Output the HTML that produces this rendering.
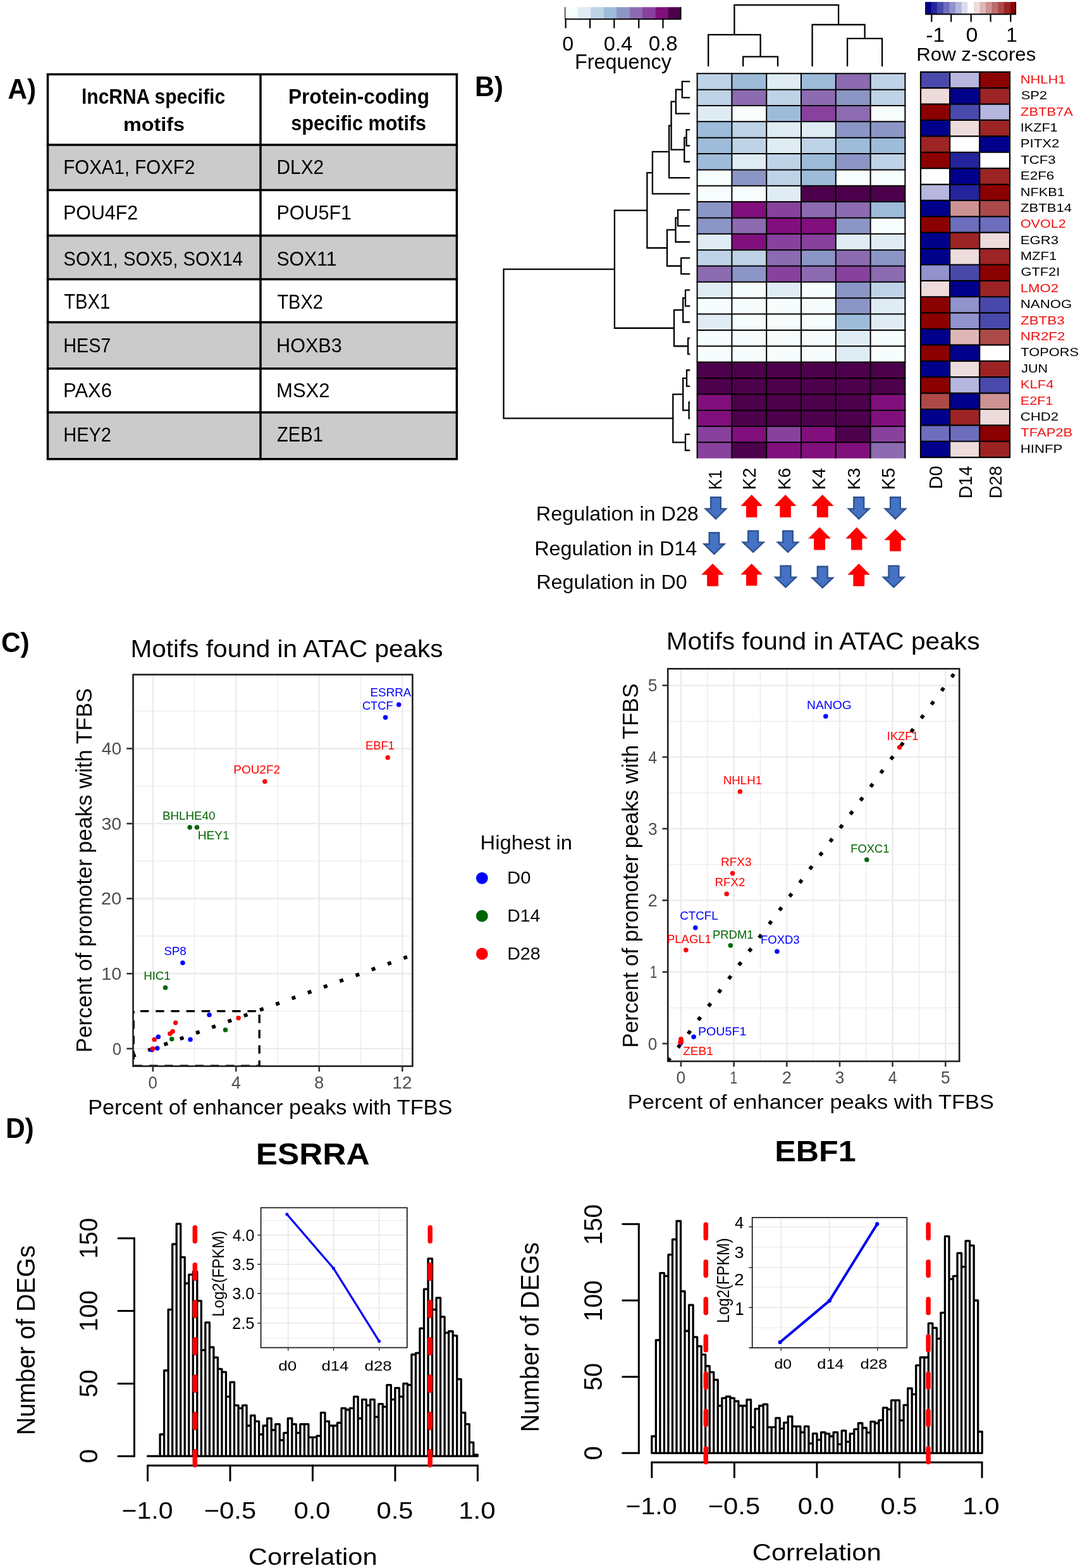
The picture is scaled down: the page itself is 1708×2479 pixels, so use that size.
<!DOCTYPE html>
<html><head><meta charset="utf-8"><title>Figure</title>
<style>html,body{margin:0;padding:0;background:#fff;overflow:hidden}svg{display:block}
text{font-family:"Liberation Sans",Arial,sans-serif;white-space:pre}</style></head>
<body><svg xmlns="http://www.w3.org/2000/svg" width="1708" height="2479" viewBox="0 0 1708 2479">
<rect width="1708" height="2479" fill="#fff"/>
<rect x="75.5" y="229" width="646.9" height="71.5" fill="#cbcbcb" stroke="none" stroke-width="0" />
<rect x="75.5" y="372.5" width="646.9" height="69" fill="#cbcbcb" stroke="none" stroke-width="0" />
<rect x="75.5" y="509.6" width="646.9" height="73.2" fill="#cbcbcb" stroke="none" stroke-width="0" />
<rect x="75.5" y="652" width="646.9" height="73.8" fill="#cbcbcb" stroke="none" stroke-width="0" />
<line x1="73.75" y1="117.5" x2="724.15" y2="117.5" stroke="#000" stroke-width="3.5" />
<line x1="73.75" y1="229" x2="724.15" y2="229" stroke="#000" stroke-width="3.5" />
<line x1="73.75" y1="300.5" x2="724.15" y2="300.5" stroke="#000" stroke-width="3.5" />
<line x1="73.75" y1="372.5" x2="724.15" y2="372.5" stroke="#000" stroke-width="3.5" />
<line x1="73.75" y1="441.5" x2="724.15" y2="441.5" stroke="#000" stroke-width="3.5" />
<line x1="73.75" y1="509.6" x2="724.15" y2="509.6" stroke="#000" stroke-width="3.5" />
<line x1="73.75" y1="582.8" x2="724.15" y2="582.8" stroke="#000" stroke-width="3.5" />
<line x1="73.75" y1="652" x2="724.15" y2="652" stroke="#000" stroke-width="3.5" />
<line x1="73.75" y1="725.8" x2="724.15" y2="725.8" stroke="#000" stroke-width="3.5" />
<line x1="75.5" y1="117.5" x2="75.5" y2="725.8" stroke="#000" stroke-width="3.5" />
<line x1="722.4" y1="117.5" x2="722.4" y2="725.8" stroke="#000" stroke-width="3.5" />
<line x1="412" y1="117.5" x2="412" y2="725.8" stroke="#000" stroke-width="3.5" />
<text transform="translate(12.2,156.4) scale(0.9407,1)" font-size="45.27" font-weight="bold" fill="#000" >A)</text>
<text transform="translate(129.01,164) scale(0.9080,1)" font-size="33.03" font-weight="bold" fill="#000" >lncRNA specific</text>
<text transform="translate(194.98,206.5) scale(1.0670,1)" font-size="30.28" font-weight="bold" fill="#000" >motifs</text>
<text transform="translate(455.9,163.5) scale(0.9574,1)" font-size="33.03" font-weight="bold" fill="#000" >Protein-coding</text>
<text transform="translate(460.33,205.9) scale(0.9287,1)" font-size="32.89" font-weight="bold" fill="#000" >specific motifs</text>
<text transform="translate(100.18,275.4) scale(0.9217,1)" font-size="32" fill="#000" >FOXA1, FOXF2</text>
<text transform="translate(437.55,275.4) scale(0.9279,1)" font-size="32.18" fill="#000" >DLX2</text>
<text transform="translate(100.11,346.9) scale(0.9475,1)" font-size="32" fill="#000" >POU4F2</text>
<text transform="translate(437.5,346.9) scale(0.9517,1)" font-size="32" fill="#000" >POU5F1</text>
<text transform="translate(100.34,419.5) scale(0.9170,1)" font-size="32" fill="#000" >SOX1, SOX5, SOX14</text>
<text transform="translate(437.5,419.5) scale(0.9420,1)" font-size="32" fill="#000" >SOX11</text>
<text transform="translate(101.23,487.6) scale(0.8967,1)" font-size="32.54" fill="#000" >TBX1</text>
<text transform="translate(438.43,487.6) scale(0.9004,1)" font-size="32.18" fill="#000" >TBX2</text>
<text transform="translate(100.24,556.6) scale(0.8990,1)" font-size="32" fill="#000" >HES7</text>
<text transform="translate(437.09,556.6) scale(0.9554,1)" font-size="32" fill="#000" >HOXB3</text>
<text transform="translate(100.06,628) scale(0.9691,1)" font-size="32" fill="#000" >PAX6</text>
<text transform="translate(437.06,628) scale(0.9690,1)" font-size="32" fill="#000" >MSX2</text>
<text transform="translate(100.22,697.7) scale(0.9003,1)" font-size="32.18" fill="#000" >HEY2</text>
<text transform="translate(438.09,697.7) scale(0.8947,1)" font-size="32.54" fill="#000" >ZEB1</text>
<text transform="translate(750.97,151.7) scale(0.9693,1)" font-size="43.97" font-weight="bold" fill="#000" >B)</text>
<rect x="1102.6" y="116.3" width="54.8" height="25.35" fill="#BFD3E6" stroke="none" stroke-width="0" />
<rect x="1157.4" y="116.3" width="54.8" height="25.35" fill="#9EBCDA" stroke="none" stroke-width="0" />
<rect x="1212.2" y="116.3" width="54.8" height="25.35" fill="#E0ECF4" stroke="none" stroke-width="0" />
<rect x="1267" y="116.3" width="54.8" height="25.35" fill="#9EBCDA" stroke="none" stroke-width="0" />
<rect x="1321.8" y="116.3" width="54.8" height="25.35" fill="#8C6BB1" stroke="none" stroke-width="0" />
<rect x="1376.6" y="116.3" width="54.8" height="25.35" fill="#BFD3E6" stroke="none" stroke-width="0" />
<rect x="1102.6" y="141.65" width="54.8" height="25.35" fill="#BFD3E6" stroke="none" stroke-width="0" />
<rect x="1157.4" y="141.65" width="54.8" height="25.35" fill="#8C6BB1" stroke="none" stroke-width="0" />
<rect x="1212.2" y="141.65" width="54.8" height="25.35" fill="#BFD3E6" stroke="none" stroke-width="0" />
<rect x="1267" y="141.65" width="54.8" height="25.35" fill="#8C6BB1" stroke="none" stroke-width="0" />
<rect x="1321.8" y="141.65" width="54.8" height="25.35" fill="#8C96C6" stroke="none" stroke-width="0" />
<rect x="1376.6" y="141.65" width="54.8" height="25.35" fill="#BFD3E6" stroke="none" stroke-width="0" />
<rect x="1102.6" y="167" width="54.8" height="25.35" fill="#E0ECF4" stroke="none" stroke-width="0" />
<rect x="1157.4" y="167" width="54.8" height="25.35" fill="#F7FCFD" stroke="none" stroke-width="0" />
<rect x="1212.2" y="167" width="54.8" height="25.35" fill="#9EBCDA" stroke="none" stroke-width="0" />
<rect x="1267" y="167" width="54.8" height="25.35" fill="#88419D" stroke="none" stroke-width="0" />
<rect x="1321.8" y="167" width="54.8" height="25.35" fill="#8C6BB1" stroke="none" stroke-width="0" />
<rect x="1376.6" y="167" width="54.8" height="25.35" fill="#F7FCFD" stroke="none" stroke-width="0" />
<rect x="1102.6" y="192.35" width="54.8" height="25.35" fill="#9EBCDA" stroke="none" stroke-width="0" />
<rect x="1157.4" y="192.35" width="54.8" height="25.35" fill="#BFD3E6" stroke="none" stroke-width="0" />
<rect x="1212.2" y="192.35" width="54.8" height="25.35" fill="#E0ECF4" stroke="none" stroke-width="0" />
<rect x="1267" y="192.35" width="54.8" height="25.35" fill="#E0ECF4" stroke="none" stroke-width="0" />
<rect x="1321.8" y="192.35" width="54.8" height="25.35" fill="#8C96C6" stroke="none" stroke-width="0" />
<rect x="1376.6" y="192.35" width="54.8" height="25.35" fill="#8C96C6" stroke="none" stroke-width="0" />
<rect x="1102.6" y="217.7" width="54.8" height="25.35" fill="#9EBCDA" stroke="none" stroke-width="0" />
<rect x="1157.4" y="217.7" width="54.8" height="25.35" fill="#BFD3E6" stroke="none" stroke-width="0" />
<rect x="1212.2" y="217.7" width="54.8" height="25.35" fill="#E0ECF4" stroke="none" stroke-width="0" />
<rect x="1267" y="217.7" width="54.8" height="25.35" fill="#BFD3E6" stroke="none" stroke-width="0" />
<rect x="1321.8" y="217.7" width="54.8" height="25.35" fill="#9EBCDA" stroke="none" stroke-width="0" />
<rect x="1376.6" y="217.7" width="54.8" height="25.35" fill="#9EBCDA" stroke="none" stroke-width="0" />
<rect x="1102.6" y="243.05" width="54.8" height="25.35" fill="#9EBCDA" stroke="none" stroke-width="0" />
<rect x="1157.4" y="243.05" width="54.8" height="25.35" fill="#E0ECF4" stroke="none" stroke-width="0" />
<rect x="1212.2" y="243.05" width="54.8" height="25.35" fill="#BFD3E6" stroke="none" stroke-width="0" />
<rect x="1267" y="243.05" width="54.8" height="25.35" fill="#9EBCDA" stroke="none" stroke-width="0" />
<rect x="1321.8" y="243.05" width="54.8" height="25.35" fill="#8C96C6" stroke="none" stroke-width="0" />
<rect x="1376.6" y="243.05" width="54.8" height="25.35" fill="#BFD3E6" stroke="none" stroke-width="0" />
<rect x="1102.6" y="268.4" width="54.8" height="25.35" fill="#F7FCFD" stroke="none" stroke-width="0" />
<rect x="1157.4" y="268.4" width="54.8" height="25.35" fill="#8C96C6" stroke="none" stroke-width="0" />
<rect x="1212.2" y="268.4" width="54.8" height="25.35" fill="#BFD3E6" stroke="none" stroke-width="0" />
<rect x="1267" y="268.4" width="54.8" height="25.35" fill="#9EBCDA" stroke="none" stroke-width="0" />
<rect x="1321.8" y="268.4" width="54.8" height="25.35" fill="#F7FCFD" stroke="none" stroke-width="0" />
<rect x="1376.6" y="268.4" width="54.8" height="25.35" fill="#F7FCFD" stroke="none" stroke-width="0" />
<rect x="1102.6" y="293.75" width="54.8" height="25.35" fill="#F7FCFD" stroke="none" stroke-width="0" />
<rect x="1157.4" y="293.75" width="54.8" height="25.35" fill="#F7FCFD" stroke="none" stroke-width="0" />
<rect x="1212.2" y="293.75" width="54.8" height="25.35" fill="#E0ECF4" stroke="none" stroke-width="0" />
<rect x="1267" y="293.75" width="54.8" height="25.35" fill="#4D004B" stroke="none" stroke-width="0" />
<rect x="1321.8" y="293.75" width="54.8" height="25.35" fill="#4D004B" stroke="none" stroke-width="0" />
<rect x="1376.6" y="293.75" width="54.8" height="25.35" fill="#4D004B" stroke="none" stroke-width="0" />
<rect x="1102.6" y="319.1" width="54.8" height="25.35" fill="#8C96C6" stroke="none" stroke-width="0" />
<rect x="1157.4" y="319.1" width="54.8" height="25.35" fill="#810F7C" stroke="none" stroke-width="0" />
<rect x="1212.2" y="319.1" width="54.8" height="25.35" fill="#88419D" stroke="none" stroke-width="0" />
<rect x="1267" y="319.1" width="54.8" height="25.35" fill="#8C6BB1" stroke="none" stroke-width="0" />
<rect x="1321.8" y="319.1" width="54.8" height="25.35" fill="#8C6BB1" stroke="none" stroke-width="0" />
<rect x="1376.6" y="319.1" width="54.8" height="25.35" fill="#9EBCDA" stroke="none" stroke-width="0" />
<rect x="1102.6" y="344.45" width="54.8" height="25.35" fill="#8C96C6" stroke="none" stroke-width="0" />
<rect x="1157.4" y="344.45" width="54.8" height="25.35" fill="#8C6BB1" stroke="none" stroke-width="0" />
<rect x="1212.2" y="344.45" width="54.8" height="25.35" fill="#810F7C" stroke="none" stroke-width="0" />
<rect x="1267" y="344.45" width="54.8" height="25.35" fill="#810F7C" stroke="none" stroke-width="0" />
<rect x="1321.8" y="344.45" width="54.8" height="25.35" fill="#8C96C6" stroke="none" stroke-width="0" />
<rect x="1376.6" y="344.45" width="54.8" height="25.35" fill="#F7FCFD" stroke="none" stroke-width="0" />
<rect x="1102.6" y="369.8" width="54.8" height="25.35" fill="#E0ECF4" stroke="none" stroke-width="0" />
<rect x="1157.4" y="369.8" width="54.8" height="25.35" fill="#810F7C" stroke="none" stroke-width="0" />
<rect x="1212.2" y="369.8" width="54.8" height="25.35" fill="#88419D" stroke="none" stroke-width="0" />
<rect x="1267" y="369.8" width="54.8" height="25.35" fill="#88419D" stroke="none" stroke-width="0" />
<rect x="1321.8" y="369.8" width="54.8" height="25.35" fill="#E0ECF4" stroke="none" stroke-width="0" />
<rect x="1376.6" y="369.8" width="54.8" height="25.35" fill="#E0ECF4" stroke="none" stroke-width="0" />
<rect x="1102.6" y="395.15" width="54.8" height="25.35" fill="#BFD3E6" stroke="none" stroke-width="0" />
<rect x="1157.4" y="395.15" width="54.8" height="25.35" fill="#BFD3E6" stroke="none" stroke-width="0" />
<rect x="1212.2" y="395.15" width="54.8" height="25.35" fill="#8C6BB1" stroke="none" stroke-width="0" />
<rect x="1267" y="395.15" width="54.8" height="25.35" fill="#8C96C6" stroke="none" stroke-width="0" />
<rect x="1321.8" y="395.15" width="54.8" height="25.35" fill="#8C6BB1" stroke="none" stroke-width="0" />
<rect x="1376.6" y="395.15" width="54.8" height="25.35" fill="#8C96C6" stroke="none" stroke-width="0" />
<rect x="1102.6" y="420.5" width="54.8" height="25.35" fill="#8C6BB1" stroke="none" stroke-width="0" />
<rect x="1157.4" y="420.5" width="54.8" height="25.35" fill="#8C96C6" stroke="none" stroke-width="0" />
<rect x="1212.2" y="420.5" width="54.8" height="25.35" fill="#88419D" stroke="none" stroke-width="0" />
<rect x="1267" y="420.5" width="54.8" height="25.35" fill="#8C6BB1" stroke="none" stroke-width="0" />
<rect x="1321.8" y="420.5" width="54.8" height="25.35" fill="#88419D" stroke="none" stroke-width="0" />
<rect x="1376.6" y="420.5" width="54.8" height="25.35" fill="#8C6BB1" stroke="none" stroke-width="0" />
<rect x="1102.6" y="445.85" width="54.8" height="25.35" fill="#E0ECF4" stroke="none" stroke-width="0" />
<rect x="1157.4" y="445.85" width="54.8" height="25.35" fill="#F7FCFD" stroke="none" stroke-width="0" />
<rect x="1212.2" y="445.85" width="54.8" height="25.35" fill="#E0ECF4" stroke="none" stroke-width="0" />
<rect x="1267" y="445.85" width="54.8" height="25.35" fill="#F7FCFD" stroke="none" stroke-width="0" />
<rect x="1321.8" y="445.85" width="54.8" height="25.35" fill="#8C96C6" stroke="none" stroke-width="0" />
<rect x="1376.6" y="445.85" width="54.8" height="25.35" fill="#BFD3E6" stroke="none" stroke-width="0" />
<rect x="1102.6" y="471.2" width="54.8" height="25.35" fill="#F7FCFD" stroke="none" stroke-width="0" />
<rect x="1157.4" y="471.2" width="54.8" height="25.35" fill="#F7FCFD" stroke="none" stroke-width="0" />
<rect x="1212.2" y="471.2" width="54.8" height="25.35" fill="#F7FCFD" stroke="none" stroke-width="0" />
<rect x="1267" y="471.2" width="54.8" height="25.35" fill="#F7FCFD" stroke="none" stroke-width="0" />
<rect x="1321.8" y="471.2" width="54.8" height="25.35" fill="#8C96C6" stroke="none" stroke-width="0" />
<rect x="1376.6" y="471.2" width="54.8" height="25.35" fill="#E0ECF4" stroke="none" stroke-width="0" />
<rect x="1102.6" y="496.55" width="54.8" height="25.35" fill="#E0ECF4" stroke="none" stroke-width="0" />
<rect x="1157.4" y="496.55" width="54.8" height="25.35" fill="#F7FCFD" stroke="none" stroke-width="0" />
<rect x="1212.2" y="496.55" width="54.8" height="25.35" fill="#F7FCFD" stroke="none" stroke-width="0" />
<rect x="1267" y="496.55" width="54.8" height="25.35" fill="#F7FCFD" stroke="none" stroke-width="0" />
<rect x="1321.8" y="496.55" width="54.8" height="25.35" fill="#9EBCDA" stroke="none" stroke-width="0" />
<rect x="1376.6" y="496.55" width="54.8" height="25.35" fill="#E0ECF4" stroke="none" stroke-width="0" />
<rect x="1102.6" y="521.9" width="54.8" height="25.35" fill="#F7FCFD" stroke="none" stroke-width="0" />
<rect x="1157.4" y="521.9" width="54.8" height="25.35" fill="#F7FCFD" stroke="none" stroke-width="0" />
<rect x="1212.2" y="521.9" width="54.8" height="25.35" fill="#F7FCFD" stroke="none" stroke-width="0" />
<rect x="1267" y="521.9" width="54.8" height="25.35" fill="#F7FCFD" stroke="none" stroke-width="0" />
<rect x="1321.8" y="521.9" width="54.8" height="25.35" fill="#E0ECF4" stroke="none" stroke-width="0" />
<rect x="1376.6" y="521.9" width="54.8" height="25.35" fill="#F7FCFD" stroke="none" stroke-width="0" />
<rect x="1102.6" y="547.25" width="54.8" height="25.35" fill="#F7FCFD" stroke="none" stroke-width="0" />
<rect x="1157.4" y="547.25" width="54.8" height="25.35" fill="#F7FCFD" stroke="none" stroke-width="0" />
<rect x="1212.2" y="547.25" width="54.8" height="25.35" fill="#F7FCFD" stroke="none" stroke-width="0" />
<rect x="1267" y="547.25" width="54.8" height="25.35" fill="#F7FCFD" stroke="none" stroke-width="0" />
<rect x="1321.8" y="547.25" width="54.8" height="25.35" fill="#E0ECF4" stroke="none" stroke-width="0" />
<rect x="1376.6" y="547.25" width="54.8" height="25.35" fill="#F7FCFD" stroke="none" stroke-width="0" />
<rect x="1102.6" y="572.6" width="54.8" height="25.35" fill="#4D004B" stroke="none" stroke-width="0" />
<rect x="1157.4" y="572.6" width="54.8" height="25.35" fill="#4D004B" stroke="none" stroke-width="0" />
<rect x="1212.2" y="572.6" width="54.8" height="25.35" fill="#4D004B" stroke="none" stroke-width="0" />
<rect x="1267" y="572.6" width="54.8" height="25.35" fill="#4D004B" stroke="none" stroke-width="0" />
<rect x="1321.8" y="572.6" width="54.8" height="25.35" fill="#4D004B" stroke="none" stroke-width="0" />
<rect x="1376.6" y="572.6" width="54.8" height="25.35" fill="#4D004B" stroke="none" stroke-width="0" />
<rect x="1102.6" y="597.95" width="54.8" height="25.35" fill="#4D004B" stroke="none" stroke-width="0" />
<rect x="1157.4" y="597.95" width="54.8" height="25.35" fill="#4D004B" stroke="none" stroke-width="0" />
<rect x="1212.2" y="597.95" width="54.8" height="25.35" fill="#4D004B" stroke="none" stroke-width="0" />
<rect x="1267" y="597.95" width="54.8" height="25.35" fill="#4D004B" stroke="none" stroke-width="0" />
<rect x="1321.8" y="597.95" width="54.8" height="25.35" fill="#4D004B" stroke="none" stroke-width="0" />
<rect x="1376.6" y="597.95" width="54.8" height="25.35" fill="#4D004B" stroke="none" stroke-width="0" />
<rect x="1102.6" y="623.3" width="54.8" height="25.35" fill="#810F7C" stroke="none" stroke-width="0" />
<rect x="1157.4" y="623.3" width="54.8" height="25.35" fill="#4D004B" stroke="none" stroke-width="0" />
<rect x="1212.2" y="623.3" width="54.8" height="25.35" fill="#4D004B" stroke="none" stroke-width="0" />
<rect x="1267" y="623.3" width="54.8" height="25.35" fill="#4D004B" stroke="none" stroke-width="0" />
<rect x="1321.8" y="623.3" width="54.8" height="25.35" fill="#4D004B" stroke="none" stroke-width="0" />
<rect x="1376.6" y="623.3" width="54.8" height="25.35" fill="#810F7C" stroke="none" stroke-width="0" />
<rect x="1102.6" y="648.65" width="54.8" height="25.35" fill="#810F7C" stroke="none" stroke-width="0" />
<rect x="1157.4" y="648.65" width="54.8" height="25.35" fill="#4D004B" stroke="none" stroke-width="0" />
<rect x="1212.2" y="648.65" width="54.8" height="25.35" fill="#4D004B" stroke="none" stroke-width="0" />
<rect x="1267" y="648.65" width="54.8" height="25.35" fill="#4D004B" stroke="none" stroke-width="0" />
<rect x="1321.8" y="648.65" width="54.8" height="25.35" fill="#4D004B" stroke="none" stroke-width="0" />
<rect x="1376.6" y="648.65" width="54.8" height="25.35" fill="#810F7C" stroke="none" stroke-width="0" />
<rect x="1102.6" y="674" width="54.8" height="25.35" fill="#88419D" stroke="none" stroke-width="0" />
<rect x="1157.4" y="674" width="54.8" height="25.35" fill="#810F7C" stroke="none" stroke-width="0" />
<rect x="1212.2" y="674" width="54.8" height="25.35" fill="#88419D" stroke="none" stroke-width="0" />
<rect x="1267" y="674" width="54.8" height="25.35" fill="#810F7C" stroke="none" stroke-width="0" />
<rect x="1321.8" y="674" width="54.8" height="25.35" fill="#4D004B" stroke="none" stroke-width="0" />
<rect x="1376.6" y="674" width="54.8" height="25.35" fill="#88419D" stroke="none" stroke-width="0" />
<rect x="1102.6" y="699.35" width="54.8" height="25.35" fill="#88419D" stroke="none" stroke-width="0" />
<rect x="1157.4" y="699.35" width="54.8" height="25.35" fill="#4D004B" stroke="none" stroke-width="0" />
<rect x="1212.2" y="699.35" width="54.8" height="25.35" fill="#810F7C" stroke="none" stroke-width="0" />
<rect x="1267" y="699.35" width="54.8" height="25.35" fill="#810F7C" stroke="none" stroke-width="0" />
<rect x="1321.8" y="699.35" width="54.8" height="25.35" fill="#810F7C" stroke="none" stroke-width="0" />
<rect x="1376.6" y="699.35" width="54.8" height="25.35" fill="#8C6BB1" stroke="none" stroke-width="0" />
<line x1="1102.6" y1="115.3" x2="1102.6" y2="724.7" stroke="#000" stroke-width="2" />
<line x1="1157.4" y1="115.3" x2="1157.4" y2="724.7" stroke="#000" stroke-width="2" />
<line x1="1212.2" y1="115.3" x2="1212.2" y2="724.7" stroke="#000" stroke-width="2" />
<line x1="1267" y1="115.3" x2="1267" y2="724.7" stroke="#000" stroke-width="2" />
<line x1="1321.8" y1="115.3" x2="1321.8" y2="724.7" stroke="#000" stroke-width="2" />
<line x1="1376.6" y1="115.3" x2="1376.6" y2="724.7" stroke="#000" stroke-width="2" />
<line x1="1431.4" y1="115.3" x2="1431.4" y2="724.7" stroke="#000" stroke-width="2" />
<line x1="1101.6" y1="116.3" x2="1432.4" y2="116.3" stroke="#000" stroke-width="2" />
<line x1="1101.6" y1="141.65" x2="1432.4" y2="141.65" stroke="#000" stroke-width="2" />
<line x1="1101.6" y1="167" x2="1432.4" y2="167" stroke="#000" stroke-width="2" />
<line x1="1101.6" y1="192.35" x2="1432.4" y2="192.35" stroke="#000" stroke-width="2" />
<line x1="1101.6" y1="217.7" x2="1432.4" y2="217.7" stroke="#000" stroke-width="2" />
<line x1="1101.6" y1="243.05" x2="1432.4" y2="243.05" stroke="#000" stroke-width="2" />
<line x1="1101.6" y1="268.4" x2="1432.4" y2="268.4" stroke="#000" stroke-width="2" />
<line x1="1101.6" y1="293.75" x2="1432.4" y2="293.75" stroke="#000" stroke-width="2" />
<line x1="1101.6" y1="319.1" x2="1432.4" y2="319.1" stroke="#000" stroke-width="2" />
<line x1="1101.6" y1="344.45" x2="1432.4" y2="344.45" stroke="#000" stroke-width="2" />
<line x1="1101.6" y1="369.8" x2="1432.4" y2="369.8" stroke="#000" stroke-width="2" />
<line x1="1101.6" y1="395.15" x2="1432.4" y2="395.15" stroke="#000" stroke-width="2" />
<line x1="1101.6" y1="420.5" x2="1432.4" y2="420.5" stroke="#000" stroke-width="2" />
<line x1="1101.6" y1="445.85" x2="1432.4" y2="445.85" stroke="#000" stroke-width="2" />
<line x1="1101.6" y1="471.2" x2="1432.4" y2="471.2" stroke="#000" stroke-width="2" />
<line x1="1101.6" y1="496.55" x2="1432.4" y2="496.55" stroke="#000" stroke-width="2" />
<line x1="1101.6" y1="521.9" x2="1432.4" y2="521.9" stroke="#000" stroke-width="2" />
<line x1="1101.6" y1="547.25" x2="1432.4" y2="547.25" stroke="#000" stroke-width="2" />
<line x1="1101.6" y1="572.6" x2="1432.4" y2="572.6" stroke="#000" stroke-width="2" />
<line x1="1101.6" y1="597.95" x2="1432.4" y2="597.95" stroke="#000" stroke-width="2" />
<line x1="1101.6" y1="623.3" x2="1432.4" y2="623.3" stroke="#000" stroke-width="2" />
<line x1="1101.6" y1="648.65" x2="1432.4" y2="648.65" stroke="#000" stroke-width="2" />
<line x1="1101.6" y1="674" x2="1432.4" y2="674" stroke="#000" stroke-width="2" />
<line x1="1101.6" y1="699.35" x2="1432.4" y2="699.35" stroke="#000" stroke-width="2" />
<rect x="1456" y="113.8" width="46.1" height="25.39" fill="#4949AC" stroke="none" stroke-width="0" />
<rect x="1502.1" y="113.8" width="47.1" height="25.39" fill="#B6B6DE" stroke="none" stroke-width="0" />
<rect x="1549.2" y="113.8" width="47.8" height="25.39" fill="#8B0000" stroke="none" stroke-width="0" />
<rect x="1456" y="139.19" width="46.1" height="25.39" fill="#EEDBDB" stroke="none" stroke-width="0" />
<rect x="1502.1" y="139.19" width="47.1" height="25.39" fill="#00008B" stroke="none" stroke-width="0" />
<rect x="1549.2" y="139.19" width="47.8" height="25.39" fill="#9C2424" stroke="none" stroke-width="0" />
<rect x="1456" y="164.58" width="46.1" height="25.39" fill="#8B0000" stroke="none" stroke-width="0" />
<rect x="1502.1" y="164.58" width="47.1" height="25.39" fill="#4949AC" stroke="none" stroke-width="0" />
<rect x="1549.2" y="164.58" width="47.8" height="25.39" fill="#B6B6DE" stroke="none" stroke-width="0" />
<rect x="1456" y="189.97" width="46.1" height="25.39" fill="#00008B" stroke="none" stroke-width="0" />
<rect x="1502.1" y="189.97" width="47.1" height="25.39" fill="#EEDBDB" stroke="none" stroke-width="0" />
<rect x="1549.2" y="189.97" width="47.8" height="25.39" fill="#9C2424" stroke="none" stroke-width="0" />
<rect x="1456" y="215.36" width="46.1" height="25.39" fill="#9C2424" stroke="none" stroke-width="0" />
<rect x="1502.1" y="215.36" width="47.1" height="25.39" fill="#FFFFFF" stroke="none" stroke-width="0" />
<rect x="1549.2" y="215.36" width="47.8" height="25.39" fill="#00008B" stroke="none" stroke-width="0" />
<rect x="1456" y="240.75" width="46.1" height="25.39" fill="#8B0000" stroke="none" stroke-width="0" />
<rect x="1502.1" y="240.75" width="47.1" height="25.39" fill="#24249C" stroke="none" stroke-width="0" />
<rect x="1549.2" y="240.75" width="47.8" height="25.39" fill="#FFFFFF" stroke="none" stroke-width="0" />
<rect x="1456" y="266.14" width="46.1" height="25.39" fill="#FFFFFF" stroke="none" stroke-width="0" />
<rect x="1502.1" y="266.14" width="47.1" height="25.39" fill="#00008B" stroke="none" stroke-width="0" />
<rect x="1549.2" y="266.14" width="47.8" height="25.39" fill="#9C2424" stroke="none" stroke-width="0" />
<rect x="1456" y="291.53" width="46.1" height="25.39" fill="#B6B6DE" stroke="none" stroke-width="0" />
<rect x="1502.1" y="291.53" width="47.1" height="25.39" fill="#24249C" stroke="none" stroke-width="0" />
<rect x="1549.2" y="291.53" width="47.8" height="25.39" fill="#8B0000" stroke="none" stroke-width="0" />
<rect x="1456" y="316.92" width="46.1" height="25.39" fill="#00008B" stroke="none" stroke-width="0" />
<rect x="1502.1" y="316.92" width="47.1" height="25.39" fill="#CD9292" stroke="none" stroke-width="0" />
<rect x="1549.2" y="316.92" width="47.8" height="25.39" fill="#AC4949" stroke="none" stroke-width="0" />
<rect x="1456" y="342.31" width="46.1" height="25.39" fill="#8B0000" stroke="none" stroke-width="0" />
<rect x="1502.1" y="342.31" width="47.1" height="25.39" fill="#6D6DBD" stroke="none" stroke-width="0" />
<rect x="1549.2" y="342.31" width="47.8" height="25.39" fill="#6D6DBD" stroke="none" stroke-width="0" />
<rect x="1456" y="367.7" width="46.1" height="25.39" fill="#00008B" stroke="none" stroke-width="0" />
<rect x="1502.1" y="367.7" width="47.1" height="25.39" fill="#9C2424" stroke="none" stroke-width="0" />
<rect x="1549.2" y="367.7" width="47.8" height="25.39" fill="#EEDBDB" stroke="none" stroke-width="0" />
<rect x="1456" y="393.09" width="46.1" height="25.39" fill="#00008B" stroke="none" stroke-width="0" />
<rect x="1502.1" y="393.09" width="47.1" height="25.39" fill="#EEDBDB" stroke="none" stroke-width="0" />
<rect x="1549.2" y="393.09" width="47.8" height="25.39" fill="#9C2424" stroke="none" stroke-width="0" />
<rect x="1456" y="418.48" width="46.1" height="25.39" fill="#9292CD" stroke="none" stroke-width="0" />
<rect x="1502.1" y="418.48" width="47.1" height="25.39" fill="#4949AC" stroke="none" stroke-width="0" />
<rect x="1549.2" y="418.48" width="47.8" height="25.39" fill="#8B0000" stroke="none" stroke-width="0" />
<rect x="1456" y="443.87" width="46.1" height="25.39" fill="#EEDBDB" stroke="none" stroke-width="0" />
<rect x="1502.1" y="443.87" width="47.1" height="25.39" fill="#00008B" stroke="none" stroke-width="0" />
<rect x="1549.2" y="443.87" width="47.8" height="25.39" fill="#9C2424" stroke="none" stroke-width="0" />
<rect x="1456" y="469.26" width="46.1" height="25.39" fill="#8B0000" stroke="none" stroke-width="0" />
<rect x="1502.1" y="469.26" width="47.1" height="25.39" fill="#9292CD" stroke="none" stroke-width="0" />
<rect x="1549.2" y="469.26" width="47.8" height="25.39" fill="#4949AC" stroke="none" stroke-width="0" />
<rect x="1456" y="494.65" width="46.1" height="25.39" fill="#8B0000" stroke="none" stroke-width="0" />
<rect x="1502.1" y="494.65" width="47.1" height="25.39" fill="#9292CD" stroke="none" stroke-width="0" />
<rect x="1549.2" y="494.65" width="47.8" height="25.39" fill="#4949AC" stroke="none" stroke-width="0" />
<rect x="1456" y="520.04" width="46.1" height="25.39" fill="#00008B" stroke="none" stroke-width="0" />
<rect x="1502.1" y="520.04" width="47.1" height="25.39" fill="#DEB6B6" stroke="none" stroke-width="0" />
<rect x="1549.2" y="520.04" width="47.8" height="25.39" fill="#AC4949" stroke="none" stroke-width="0" />
<rect x="1456" y="545.43" width="46.1" height="25.39" fill="#8B0000" stroke="none" stroke-width="0" />
<rect x="1502.1" y="545.43" width="47.1" height="25.39" fill="#00008B" stroke="none" stroke-width="0" />
<rect x="1549.2" y="545.43" width="47.8" height="25.39" fill="#FFFFFF" stroke="none" stroke-width="0" />
<rect x="1456" y="570.82" width="46.1" height="25.39" fill="#00008B" stroke="none" stroke-width="0" />
<rect x="1502.1" y="570.82" width="47.1" height="25.39" fill="#EEDBDB" stroke="none" stroke-width="0" />
<rect x="1549.2" y="570.82" width="47.8" height="25.39" fill="#9C2424" stroke="none" stroke-width="0" />
<rect x="1456" y="596.21" width="46.1" height="25.39" fill="#8B0000" stroke="none" stroke-width="0" />
<rect x="1502.1" y="596.21" width="47.1" height="25.39" fill="#B6B6DE" stroke="none" stroke-width="0" />
<rect x="1549.2" y="596.21" width="47.8" height="25.39" fill="#4949AC" stroke="none" stroke-width="0" />
<rect x="1456" y="621.6" width="46.1" height="25.39" fill="#AC4949" stroke="none" stroke-width="0" />
<rect x="1502.1" y="621.6" width="47.1" height="25.39" fill="#00008B" stroke="none" stroke-width="0" />
<rect x="1549.2" y="621.6" width="47.8" height="25.39" fill="#CD9292" stroke="none" stroke-width="0" />
<rect x="1456" y="646.99" width="46.1" height="25.39" fill="#00008B" stroke="none" stroke-width="0" />
<rect x="1502.1" y="646.99" width="47.1" height="25.39" fill="#9C2424" stroke="none" stroke-width="0" />
<rect x="1549.2" y="646.99" width="47.8" height="25.39" fill="#EEDBDB" stroke="none" stroke-width="0" />
<rect x="1456" y="672.38" width="46.1" height="25.39" fill="#6D6DBD" stroke="none" stroke-width="0" />
<rect x="1502.1" y="672.38" width="47.1" height="25.39" fill="#6D6DBD" stroke="none" stroke-width="0" />
<rect x="1549.2" y="672.38" width="47.8" height="25.39" fill="#8B0000" stroke="none" stroke-width="0" />
<rect x="1456" y="697.77" width="46.1" height="25.39" fill="#00008B" stroke="none" stroke-width="0" />
<rect x="1502.1" y="697.77" width="47.1" height="25.39" fill="#EEDBDB" stroke="none" stroke-width="0" />
<rect x="1549.2" y="697.77" width="47.8" height="25.39" fill="#9C2424" stroke="none" stroke-width="0" />
<line x1="1456" y1="112.8" x2="1456" y2="723.16" stroke="#000" stroke-width="2.2" />
<line x1="1502.1" y1="112.8" x2="1502.1" y2="723.16" stroke="#000" stroke-width="2.2" />
<line x1="1549.2" y1="112.8" x2="1549.2" y2="723.16" stroke="#000" stroke-width="2.2" />
<line x1="1597" y1="112.8" x2="1597" y2="723.16" stroke="#000" stroke-width="2.2" />
<line x1="1455" y1="113.8" x2="1598" y2="113.8" stroke="#000" stroke-width="2.2" />
<line x1="1455" y1="139.19" x2="1598" y2="139.19" stroke="#000" stroke-width="2.2" />
<line x1="1455" y1="164.58" x2="1598" y2="164.58" stroke="#000" stroke-width="2.2" />
<line x1="1455" y1="189.97" x2="1598" y2="189.97" stroke="#000" stroke-width="2.2" />
<line x1="1455" y1="215.36" x2="1598" y2="215.36" stroke="#000" stroke-width="2.2" />
<line x1="1455" y1="240.75" x2="1598" y2="240.75" stroke="#000" stroke-width="2.2" />
<line x1="1455" y1="266.14" x2="1598" y2="266.14" stroke="#000" stroke-width="2.2" />
<line x1="1455" y1="291.53" x2="1598" y2="291.53" stroke="#000" stroke-width="2.2" />
<line x1="1455" y1="316.92" x2="1598" y2="316.92" stroke="#000" stroke-width="2.2" />
<line x1="1455" y1="342.31" x2="1598" y2="342.31" stroke="#000" stroke-width="2.2" />
<line x1="1455" y1="367.7" x2="1598" y2="367.7" stroke="#000" stroke-width="2.2" />
<line x1="1455" y1="393.09" x2="1598" y2="393.09" stroke="#000" stroke-width="2.2" />
<line x1="1455" y1="418.48" x2="1598" y2="418.48" stroke="#000" stroke-width="2.2" />
<line x1="1455" y1="443.87" x2="1598" y2="443.87" stroke="#000" stroke-width="2.2" />
<line x1="1455" y1="469.26" x2="1598" y2="469.26" stroke="#000" stroke-width="2.2" />
<line x1="1455" y1="494.65" x2="1598" y2="494.65" stroke="#000" stroke-width="2.2" />
<line x1="1455" y1="520.04" x2="1598" y2="520.04" stroke="#000" stroke-width="2.2" />
<line x1="1455" y1="545.43" x2="1598" y2="545.43" stroke="#000" stroke-width="2.2" />
<line x1="1455" y1="570.82" x2="1598" y2="570.82" stroke="#000" stroke-width="2.2" />
<line x1="1455" y1="596.21" x2="1598" y2="596.21" stroke="#000" stroke-width="2.2" />
<line x1="1455" y1="621.6" x2="1598" y2="621.6" stroke="#000" stroke-width="2.2" />
<line x1="1455" y1="646.99" x2="1598" y2="646.99" stroke="#000" stroke-width="2.2" />
<line x1="1455" y1="672.38" x2="1598" y2="672.38" stroke="#000" stroke-width="2.2" />
<line x1="1455" y1="697.77" x2="1598" y2="697.77" stroke="#000" stroke-width="2.2" />
<line x1="1455" y1="723.16" x2="1598" y2="723.16" stroke="#000" stroke-width="2.2" />
<text transform="translate(1613.81,131.9) scale(1.1974,1)" font-size="18.22" fill="#F01010" >NHLH1</text>
<text transform="translate(1614.66,157.28) scale(1.2223,1)" font-size="17.92" fill="#000" >SP2</text>
<text transform="translate(1614.12,182.66) scale(1.2018,1)" font-size="18.22" fill="#F01010" >ZBTB7A</text>
<text transform="translate(1613.65,208.04) scale(1.1911,1)" font-size="18.22" fill="#000" >IKZF1</text>
<text transform="translate(1613.78,233.42) scale(1.2300,1)" font-size="18.02" fill="#000" >PITX2</text>
<text transform="translate(1614.37,258.8) scale(1.2327,1)" font-size="17.92" fill="#000" >TCF3</text>
<text transform="translate(1613.76,284.18) scale(1.2502,1)" font-size="17.92" fill="#000" >E2F6</text>
<text transform="translate(1613.82,309.56) scale(1.1905,1)" font-size="18.22" fill="#000" >NFKB1</text>
<text transform="translate(1614.11,334.94) scale(1.2107,1)" font-size="18.22" fill="#000" >ZBTB14</text>
<text transform="translate(1613.79,360.32) scale(1.2057,1)" font-size="17.92" fill="#F01010" >OVOL2</text>
<text transform="translate(1613.79,385.7) scale(1.2338,1)" font-size="17.92" fill="#000" >EGR3</text>
<text transform="translate(1613.8,411.08) scale(1.2057,1)" font-size="18.22" fill="#000" >MZF1</text>
<text transform="translate(1614.58,436.46) scale(1.2149,1)" font-size="17.92" fill="#000" >GTF2I</text>
<text transform="translate(1613.78,461.84) scale(1.2376,1)" font-size="17.92" fill="#F01010" >LMO2</text>
<text transform="translate(1613.78,487.22) scale(1.2400,1)" font-size="17.92" fill="#000" >NANOG</text>
<text transform="translate(1614.1,512.6) scale(1.2464,1)" font-size="17.92" fill="#F01010" >ZBTB3</text>
<text transform="translate(1613.77,537.98) scale(1.2352,1)" font-size="18.02" fill="#F01010" >NR2F2</text>
<text transform="translate(1614.37,563.36) scale(1.2161,1)" font-size="17.92" fill="#000" >TOPORS</text>
<text transform="translate(1615.26,588.74) scale(1.1794,1)" font-size="18.22" fill="#000" >JUN</text>
<text transform="translate(1613.79,614.12) scale(1.2110,1)" font-size="18.22" fill="#F01010" >KLF4</text>
<text transform="translate(1613.84,639.5) scale(1.1935,1)" font-size="18.02" fill="#F01010" >E2F1</text>
<text transform="translate(1613.67,664.88) scale(1.2401,1)" font-size="17.92" fill="#000" >CHD2</text>
<text transform="translate(1614.37,690.26) scale(1.2209,1)" font-size="18.02" fill="#F01010" >TFAP2B</text>
<text transform="translate(1613.78,715.64) scale(1.2187,1)" font-size="18.22" fill="#000" >HINFP</text>
<rect x="893.4" y="11.3" width="20.71" height="18.7" fill="#F7FCFD" stroke="none" stroke-width="0" />
<rect x="913.81" y="11.3" width="20.71" height="18.7" fill="#E0ECF4" stroke="none" stroke-width="0" />
<rect x="934.22" y="11.3" width="20.71" height="18.7" fill="#BFD3E6" stroke="none" stroke-width="0" />
<rect x="954.63" y="11.3" width="20.71" height="18.7" fill="#9EBCDA" stroke="none" stroke-width="0" />
<rect x="975.04" y="11.3" width="20.71" height="18.7" fill="#8C96C6" stroke="none" stroke-width="0" />
<rect x="995.46" y="11.3" width="20.71" height="18.7" fill="#8C6BB1" stroke="none" stroke-width="0" />
<rect x="1015.87" y="11.3" width="20.71" height="18.7" fill="#88419D" stroke="none" stroke-width="0" />
<rect x="1036.28" y="11.3" width="20.71" height="18.7" fill="#810F7C" stroke="none" stroke-width="0" />
<rect x="1056.69" y="11.3" width="20.71" height="18.7" fill="#4D004B" stroke="none" stroke-width="0" />
<line x1="893.4" y1="30.2" x2="1077.1" y2="30.2" stroke="#000" stroke-width="1.9" />
<line x1="893.6" y1="11.3" x2="893.6" y2="31" stroke="#000" stroke-width="1.2" />
<line x1="1076.4" y1="11.3" x2="1076.4" y2="31" stroke="#000" stroke-width="1.8" />
<line x1="894.6" y1="29" x2="894.6" y2="44.6" stroke="#000" stroke-width="2.2" />
<line x1="933" y1="29" x2="933" y2="44.6" stroke="#000" stroke-width="2.2" />
<line x1="971.3" y1="29" x2="971.3" y2="44.6" stroke="#000" stroke-width="2.2" />
<line x1="1010.2" y1="29" x2="1010.2" y2="44.6" stroke="#000" stroke-width="2.2" />
<line x1="1048.5" y1="29" x2="1048.5" y2="44.6" stroke="#000" stroke-width="2.2" />
<text transform="translate(889.14,79.8) scale(1.0037,1)" font-size="32.14" fill="#000" >0</text>
<text transform="translate(954.72,79.8) scale(1.0303,1)" font-size="31.86" fill="#000" >0.4</text>
<text transform="translate(1025.71,79.8) scale(1.0189,1)" font-size="32.43" fill="#000" >0.8</text>
<text transform="translate(909.04,109) scale(0.9948,1)" font-size="32.54" fill="#000" >Frequency</text>
<rect x="1463.4" y="3.1" width="9.86" height="19.3" fill="#00008B" stroke="none" stroke-width="0" />
<rect x="1472.96" y="3.1" width="9.86" height="19.3" fill="#24249C" stroke="none" stroke-width="0" />
<rect x="1482.52" y="3.1" width="9.86" height="19.3" fill="#4949AC" stroke="none" stroke-width="0" />
<rect x="1492.08" y="3.1" width="9.86" height="19.3" fill="#6D6DBD" stroke="none" stroke-width="0" />
<rect x="1501.64" y="3.1" width="9.86" height="19.3" fill="#9292CD" stroke="none" stroke-width="0" />
<rect x="1511.2" y="3.1" width="9.86" height="19.3" fill="#B6B6DE" stroke="none" stroke-width="0" />
<rect x="1520.76" y="3.1" width="9.86" height="19.3" fill="#DBDBEE" stroke="none" stroke-width="0" />
<rect x="1530.32" y="3.1" width="9.86" height="19.3" fill="#FFFFFF" stroke="none" stroke-width="0" />
<rect x="1539.88" y="3.1" width="9.86" height="19.3" fill="#EEDBDB" stroke="none" stroke-width="0" />
<rect x="1549.44" y="3.1" width="9.86" height="19.3" fill="#DEB6B6" stroke="none" stroke-width="0" />
<rect x="1559" y="3.1" width="9.86" height="19.3" fill="#CD9292" stroke="none" stroke-width="0" />
<rect x="1568.56" y="3.1" width="9.86" height="19.3" fill="#BD6D6D" stroke="none" stroke-width="0" />
<rect x="1578.12" y="3.1" width="9.86" height="19.3" fill="#AC4949" stroke="none" stroke-width="0" />
<rect x="1587.68" y="3.1" width="9.86" height="19.3" fill="#9C2424" stroke="none" stroke-width="0" />
<rect x="1597.24" y="3.1" width="9.86" height="19.3" fill="#8B0000" stroke="none" stroke-width="0" />
<line x1="1463.4" y1="22.4" x2="1606.8" y2="22.4" stroke="#000" stroke-width="2" />
<line x1="1463.8" y1="3.1" x2="1463.8" y2="23" stroke="#000" stroke-width="1.2" />
<line x1="1606.2" y1="3.1" x2="1606.2" y2="23" stroke="#000" stroke-width="1.4" />
<line x1="1473.3" y1="21.5" x2="1473.3" y2="34.6" stroke="#000" stroke-width="2.2" />
<line x1="1504.2" y1="21.5" x2="1504.2" y2="34.6" stroke="#000" stroke-width="2.2" />
<line x1="1535.7" y1="21.5" x2="1535.7" y2="34.6" stroke="#000" stroke-width="2.2" />
<line x1="1566.6" y1="21.5" x2="1566.6" y2="34.6" stroke="#000" stroke-width="2.2" />
<line x1="1598.3" y1="21.5" x2="1598.3" y2="34.6" stroke="#000" stroke-width="2.2" />
<text transform="translate(1464.26,66.2) scale(1.0614,1)" font-size="31.53" fill="#000" >-1</text>
<text transform="translate(1527.57,66.2) scale(1.1009,1)" font-size="31" fill="#000" >0</text>
<text transform="translate(1591.37,66.2) scale(0.9948,1)" font-size="31.53" fill="#000" >1</text>
<text transform="translate(1449.24,95.8) scale(1.0332,1)" font-size="30.23" fill="#000" >Row z-scores</text>
<path d="M1175.2,104.9V89.6H1230V104.9 M1120.2,104.9V54.8H1202.6V89.6 M1340.1,104.9V60.9H1395.1V104.9 M1284.6,104.9V39H1367.6V60.9 M1161.4,54.8V7.9H1326.1V39" stroke="#000" stroke-width="2.3" fill="none" />
<path d="M971.9,425.65H796.5V661.32H1064.3 M1023.4,332.57H971.9V518.73H1066 M1031.9,273.15H1023.4V391.98H1055 M1058.1,239.88H1031.9V306.43H1091.2 M1061.6,198.69H1058.1V281.07H1091.2 M1068.9,160.66H1061.6V236.71H1082.3 M1078.8,141.65H1068.9V179.68H1091.2 M1091.2,128.97H1078.8V154.32H1091.2 M1085.6,217.7H1082.3V255.73H1091.2 M1091.2,205.03H1085.6V230.38H1091.2 M1068.5,363.46H1055V420.5H1077.2 M1072,344.45H1068.5V382.48H1091.2 M1091.2,331.78H1072V357.12H1091.2 M1091.2,407.83H1077.2V433.18H1091.2 M1080.2,490.21H1066V547.25H1088.1 M1084,471.2H1080.2V509.23H1091.2 M1091.2,458.53H1084V483.88H1091.2 M1091.2,534.58H1088.1V559.92H1091.2 M1080.2,623.3H1064.3V699.35H1084 M1086,597.95H1080.2V648.65H1089.6 M1091.2,585.27H1086V610.62H1091.2 M1091.2,635.98H1089.6V661.32H1091.2 M1091.2,686.67H1084V712.02H1091.2" stroke="#000" stroke-width="2.3" fill="none" />
<text transform="translate(1140.8,774.29) rotate(-90) scale(0.8839,1)" font-size="28.78" fill="#000" >K1</text>
<text transform="translate(1195.2,774.54) rotate(-90) scale(0.9982,1)" font-size="28.6" fill="#000" >K2</text>
<text transform="translate(1250.3,774.55) rotate(-90) scale(1.0062,1)" font-size="28.44" fill="#000" >K6</text>
<text transform="translate(1304.9,774.52) rotate(-90) scale(0.9889,1)" font-size="28.64" fill="#000" >K4</text>
<text transform="translate(1360,774.55) rotate(-90) scale(1.0062,1)" font-size="28.44" fill="#000" >K3</text>
<text transform="translate(1414.8,774.55) rotate(-90) scale(0.9845,1)" font-size="29.07" fill="#000" >K5</text>
<text transform="translate(1490,773.37) rotate(-90) scale(0.9860,1)" font-size="29.3" fill="#000" >D0</text>
<text transform="translate(1537,788.31) rotate(-90) scale(0.9826,1)" font-size="28.64" fill="#000" >D14</text>
<text transform="translate(1584,788.32) rotate(-90) scale(1.0112,1)" font-size="28.02" fill="#000" >D28</text>
<text transform="translate(847.85,822.6) scale(1.0087,1)" font-size="32.07" fill="#000" >Regulation in D28</text>
<text transform="translate(845.25,877.7) scale(1.0084,1)" font-size="32.07" fill="#000" >Regulation in D14</text>
<text transform="translate(848.25,930.9) scale(1.0060,1)" font-size="32.07" fill="#000" >Regulation in D0</text>
<path d="M1124.12,786.3H1139.77V804.55H1148L1131.95,820.4L1115.9,804.55H1124.12Z" stroke="#2F528F" stroke-width="2.4" fill="#4472C4" stroke-linejoin="miter"/>
<path d="M1188.7,782L1206,800H1197.35V818H1180.05V800H1171.4Z" stroke="none" stroke-width="0" fill="#FF0000" />
<path d="M1242.1,782L1259.6,800H1250.85V818H1233.35V800H1224.6Z" stroke="none" stroke-width="0" fill="#FF0000" />
<path d="M1300.75,782L1318.6,800H1309.67V818H1291.83V800H1282.9Z" stroke="none" stroke-width="0" fill="#FF0000" />
<path d="M1350.33,786.3H1366.17V804.55H1374.5L1358.25,820.4L1342,804.55H1350.33Z" stroke="#2F528F" stroke-width="2.4" fill="#4472C4" stroke-linejoin="miter"/>
<path d="M1408.12,786.3H1423.77V804.55H1432L1415.95,820.4L1399.9,804.55H1408.12Z" stroke="#2F528F" stroke-width="2.4" fill="#4472C4" stroke-linejoin="miter"/>
<path d="M1121.75,842.2H1137.25V860.25H1145.4L1129.5,875.9L1113.6,860.25H1121.75Z" stroke="#2F528F" stroke-width="2.4" fill="#4472C4" stroke-linejoin="miter"/>
<path d="M1183.22,839.5H1199.08V857.35H1207.4L1191.15,872.8L1174.9,857.35H1183.22Z" stroke="#2F528F" stroke-width="2.4" fill="#4472C4" stroke-linejoin="miter"/>
<path d="M1238.25,839.5H1253.75V857.35H1261.9L1246,872.8L1230.1,857.35H1238.25Z" stroke="#2F528F" stroke-width="2.4" fill="#4472C4" stroke-linejoin="miter"/>
<path d="M1296.1,833.4L1314,851.5H1305.05V869.6H1287.15V851.5H1278.2Z" stroke="none" stroke-width="0" fill="#FF0000" />
<path d="M1354.75,833.4L1372.2,851.5H1363.47V869.6H1346.03V851.5H1337.3Z" stroke="none" stroke-width="0" fill="#FF0000" />
<path d="M1415.95,836.6L1433.6,854.05H1424.77V871.5H1407.12V854.05H1398.3Z" stroke="none" stroke-width="0" fill="#FF0000" />
<path d="M1127.1,891L1145,908.85H1136.05V926.7H1118.15V908.85H1109.2Z" stroke="none" stroke-width="0" fill="#FF0000" />
<path d="M1188.7,891L1206,908.5H1197.35V926H1180.05V908.5H1171.4Z" stroke="none" stroke-width="0" fill="#FF0000" />
<path d="M1234.55,894.7H1250.45V912.75H1258.8L1242.5,928.4L1226.2,912.75H1234.55Z" stroke="#2F528F" stroke-width="2.4" fill="#4472C4" stroke-linejoin="miter"/>
<path d="M1292.83,895.8H1308.67V913.7H1317L1300.75,929.2L1284.5,913.7H1292.83Z" stroke="#2F528F" stroke-width="2.4" fill="#4472C4" stroke-linejoin="miter"/>
<path d="M1358.25,891L1376.1,908.85H1367.17V926.7H1349.33V908.85H1340.4Z" stroke="none" stroke-width="0" fill="#FF0000" />
<path d="M1405.52,894.7H1421.38V912.75H1429.7L1413.45,928.4L1397.2,912.75H1405.52Z" stroke="#2F528F" stroke-width="2.4" fill="#4472C4" stroke-linejoin="miter"/>
<text transform="translate(1.94,1031) scale(0.9690,1)" font-size="43.8" font-weight="bold" fill="#000" >C)</text>
<clipPath id="cl"><rect x="210.5" y="1066.6" width="441.9" height="619"/></clipPath>
<line x1="307.55" y1="1066.6" x2="307.55" y2="1685.6" stroke="#EBEBEB" stroke-width="1.3" />
<line x1="439.05" y1="1066.6" x2="439.05" y2="1685.6" stroke="#EBEBEB" stroke-width="1.3" />
<line x1="570.55" y1="1066.6" x2="570.55" y2="1685.6" stroke="#EBEBEB" stroke-width="1.3" />
<line x1="210.5" y1="1598.6" x2="652.4" y2="1598.6" stroke="#EBEBEB" stroke-width="1.3" />
<line x1="210.5" y1="1480" x2="652.4" y2="1480" stroke="#EBEBEB" stroke-width="1.3" />
<line x1="210.5" y1="1361.4" x2="652.4" y2="1361.4" stroke="#EBEBEB" stroke-width="1.3" />
<line x1="210.5" y1="1242.8" x2="652.4" y2="1242.8" stroke="#EBEBEB" stroke-width="1.3" />
<line x1="210.5" y1="1124.2" x2="652.4" y2="1124.2" stroke="#EBEBEB" stroke-width="1.3" />
<line x1="241.8" y1="1066.6" x2="241.8" y2="1685.6" stroke="#EBEBEB" stroke-width="2.4" />
<line x1="373.3" y1="1066.6" x2="373.3" y2="1685.6" stroke="#EBEBEB" stroke-width="2.4" />
<line x1="504.8" y1="1066.6" x2="504.8" y2="1685.6" stroke="#EBEBEB" stroke-width="2.4" />
<line x1="636.3" y1="1066.6" x2="636.3" y2="1685.6" stroke="#EBEBEB" stroke-width="2.4" />
<line x1="210.5" y1="1657.9" x2="652.4" y2="1657.9" stroke="#EBEBEB" stroke-width="2.4" />
<line x1="210.5" y1="1539.3" x2="652.4" y2="1539.3" stroke="#EBEBEB" stroke-width="2.4" />
<line x1="210.5" y1="1420.7" x2="652.4" y2="1420.7" stroke="#EBEBEB" stroke-width="2.4" />
<line x1="210.5" y1="1302.1" x2="652.4" y2="1302.1" stroke="#EBEBEB" stroke-width="2.4" />
<line x1="210.5" y1="1183.5" x2="652.4" y2="1183.5" stroke="#EBEBEB" stroke-width="2.4" />
<g clip-path="url(#cl)"><rect x="211.2" y="1598.6" width="199" height="86.6" fill="none" stroke="#000" stroke-width="3.4" stroke-dasharray="13.4 10.8" stroke-dashoffset="13.4"/></g>
<g clip-path="url(#cl)"><line x1="210.24" y1="1669.29" x2="652.74" y2="1509.65" stroke="#000" stroke-width="5.8" stroke-dasharray="6 20.85" stroke-dashoffset="1.37"/></g>
<circle cx="630.7" cy="1114.1" r="3.75" fill="#0000FF"/>
<circle cx="609.6" cy="1134.2" r="3.75" fill="#0000FF"/>
<circle cx="613.2" cy="1197.8" r="3.75" fill="#FF0000"/>
<circle cx="418.8" cy="1235.4" r="3.75" fill="#FF0000"/>
<circle cx="300.2" cy="1307.9" r="3.75" fill="#006400"/>
<circle cx="311.5" cy="1307.9" r="3.75" fill="#006400"/>
<circle cx="288.9" cy="1522.2" r="3.75" fill="#0000FF"/>
<circle cx="261.5" cy="1561.6" r="3.75" fill="#006400"/>
<circle cx="331" cy="1604.5" r="3.75" fill="#0000FF"/>
<circle cx="356.5" cy="1628.2" r="3.75" fill="#006400"/>
<circle cx="377.1" cy="1609.4" r="3.75" fill="#FF0000"/>
<circle cx="277.6" cy="1617" r="3.75" fill="#FF0000"/>
<circle cx="250.3" cy="1639.3" r="3.75" fill="#0000FF"/>
<circle cx="271.7" cy="1642.7" r="3.75" fill="#006400"/>
<circle cx="301" cy="1643.4" r="3.75" fill="#0000FF"/>
<circle cx="273.1" cy="1630.7" r="3.75" fill="#FF0000"/>
<circle cx="268.9" cy="1634.2" r="3.75" fill="#FF0000"/>
<circle cx="244.1" cy="1643.4" r="3.75" fill="#FF0000"/>
<circle cx="248.7" cy="1657.2" r="3.75" fill="#0000FF"/>
<circle cx="240.3" cy="1659.8" r="3.75" fill="#0000FF"/>
<circle cx="241.6" cy="1658" r="3.75" fill="#FF0000"/>
<rect x="210.5" y="1066.6" width="441.9" height="619" fill="none" stroke="#1E1E1E" stroke-width="2.6" />
<line x1="200.3" y1="1657.9" x2="210.5" y2="1657.9" stroke="#333333" stroke-width="2.6" />
<line x1="200.3" y1="1539.3" x2="210.5" y2="1539.3" stroke="#333333" stroke-width="2.6" />
<line x1="200.3" y1="1420.7" x2="210.5" y2="1420.7" stroke="#333333" stroke-width="2.6" />
<line x1="200.3" y1="1302.1" x2="210.5" y2="1302.1" stroke="#333333" stroke-width="2.6" />
<line x1="200.3" y1="1183.5" x2="210.5" y2="1183.5" stroke="#333333" stroke-width="2.6" />
<line x1="241.8" y1="1685.6" x2="241.8" y2="1694.2" stroke="#333333" stroke-width="2.6" />
<line x1="373.3" y1="1685.6" x2="373.3" y2="1694.2" stroke="#333333" stroke-width="2.6" />
<line x1="504.8" y1="1685.6" x2="504.8" y2="1694.2" stroke="#333333" stroke-width="2.6" />
<line x1="636.3" y1="1685.6" x2="636.3" y2="1694.2" stroke="#333333" stroke-width="2.6" />
<text transform="translate(160.75,1193.2) scale(1.0226,1)" font-size="27.59" fill="#4D4D4D" >40</text>
<text transform="translate(160.5,1311.8) scale(1.0310,1)" font-size="27.59" fill="#4D4D4D" >30</text>
<text transform="translate(159.63,1430.4) scale(1.0604,1)" font-size="27.59" fill="#4D4D4D" >20</text>
<text transform="translate(160.17,1549) scale(1.0423,1)" font-size="27.59" fill="#4D4D4D" >10</text>
<text transform="translate(177.69,1667.6) scale(0.9354,1)" font-size="27.59" fill="#4D4D4D" >0</text>
<text transform="translate(234.59,1721.4) scale(0.9551,1)" font-size="27.02" fill="#4D4D4D" >0</text>
<text transform="translate(365.98,1721.4) scale(0.9746,1)" font-size="27.48" fill="#4D4D4D" >4</text>
<text transform="translate(497.12,1721.4) scale(1.0178,1)" font-size="27.02" fill="#4D4D4D" >8</text>
<text transform="translate(620.49,1721.4) scale(1.0225,1)" font-size="27.17" fill="#4D4D4D" >12</text>
<text transform="translate(139.19,1761.5) scale(1.0201,1)" font-size="33.58" fill="#000" >Percent of enhancer peaks with TFBS</text>
<text transform="translate(145.2,1663.94) rotate(-90) scale(0.9976,1)" font-size="34.68" fill="#000" >Percent of promoter peaks with TFBS</text>
<text transform="translate(206.47,1038.7) scale(1.0371,1)" font-size="39.09" fill="#000" >Motifs found in ATAC peaks</text>
<text transform="translate(585.56,1101) scale(1.0336,1)" font-size="18.2" fill="#0000FF" >ESRRA</text>
<text transform="translate(572.97,1122) scale(1.0012,1)" font-size="18.2" fill="#0000FF" >CTCF</text>
<text transform="translate(577.88,1185) scale(0.9980,1)" font-size="18.51" fill="#FF0000" >EBF1</text>
<text transform="translate(369.35,1222.6) scale(1.0403,1)" font-size="18.2" fill="#FF0000" >POU2F2</text>
<text transform="translate(256.96,1296) scale(1.0306,1)" font-size="18.2" fill="#006400" >BHLHE40</text>
<text transform="translate(312.73,1326.6) scale(1.0338,1)" font-size="18.51" fill="#006400" >HEY1</text>
<text transform="translate(259.4,1509.8) scale(1.0277,1)" font-size="18.2" fill="#0000FF" >SP8</text>
<text transform="translate(227.17,1548.8) scale(1.0255,1)" font-size="18.2" fill="#006400" >HIC1</text>
<text transform="translate(759.62,1343.2) scale(1.0238,1)" font-size="31.93" fill="#000" >Highest in</text>
<circle cx="762.3" cy="1388.3" r="9.4" fill="#0000FF"/>
<text transform="translate(802.1,1397.1) scale(1.0595,1)" font-size="27.59" fill="#000" >D0</text>
<circle cx="762.3" cy="1448.2" r="9.4" fill="#006400"/>
<text transform="translate(802.17,1457) scale(1.0111,1)" font-size="28.06" fill="#000" >D14</text>
<circle cx="762.3" cy="1508" r="9.4" fill="#FF0000"/>
<text transform="translate(802.16,1516.8) scale(1.0353,1)" font-size="27.59" fill="#000" >D28</text>
<clipPath id="cr"><rect x="1056.2" y="1057.3" width="461" height="620.6"/></clipPath>
<line x1="1118.74" y1="1057.3" x2="1118.74" y2="1677.9" stroke="#EBEBEB" stroke-width="1.3" />
<line x1="1202.42" y1="1057.3" x2="1202.42" y2="1677.9" stroke="#EBEBEB" stroke-width="1.3" />
<line x1="1286.1" y1="1057.3" x2="1286.1" y2="1677.9" stroke="#EBEBEB" stroke-width="1.3" />
<line x1="1369.78" y1="1057.3" x2="1369.78" y2="1677.9" stroke="#EBEBEB" stroke-width="1.3" />
<line x1="1453.46" y1="1057.3" x2="1453.46" y2="1677.9" stroke="#EBEBEB" stroke-width="1.3" />
<line x1="1056.2" y1="1593.28" x2="1517.2" y2="1593.28" stroke="#EBEBEB" stroke-width="1.3" />
<line x1="1056.2" y1="1480.03" x2="1517.2" y2="1480.03" stroke="#EBEBEB" stroke-width="1.3" />
<line x1="1056.2" y1="1366.78" x2="1517.2" y2="1366.78" stroke="#EBEBEB" stroke-width="1.3" />
<line x1="1056.2" y1="1253.53" x2="1517.2" y2="1253.53" stroke="#EBEBEB" stroke-width="1.3" />
<line x1="1056.2" y1="1140.28" x2="1517.2" y2="1140.28" stroke="#EBEBEB" stroke-width="1.3" />
<line x1="1076.9" y1="1057.3" x2="1076.9" y2="1677.9" stroke="#EBEBEB" stroke-width="2.4" />
<line x1="1160.58" y1="1057.3" x2="1160.58" y2="1677.9" stroke="#EBEBEB" stroke-width="2.4" />
<line x1="1244.26" y1="1057.3" x2="1244.26" y2="1677.9" stroke="#EBEBEB" stroke-width="2.4" />
<line x1="1327.94" y1="1057.3" x2="1327.94" y2="1677.9" stroke="#EBEBEB" stroke-width="2.4" />
<line x1="1411.62" y1="1057.3" x2="1411.62" y2="1677.9" stroke="#EBEBEB" stroke-width="2.4" />
<line x1="1495.3" y1="1057.3" x2="1495.3" y2="1677.9" stroke="#EBEBEB" stroke-width="2.4" />
<line x1="1056.2" y1="1649.9" x2="1517.2" y2="1649.9" stroke="#EBEBEB" stroke-width="2.4" />
<line x1="1056.2" y1="1536.65" x2="1517.2" y2="1536.65" stroke="#EBEBEB" stroke-width="2.4" />
<line x1="1056.2" y1="1423.4" x2="1517.2" y2="1423.4" stroke="#EBEBEB" stroke-width="2.4" />
<line x1="1056.2" y1="1310.15" x2="1517.2" y2="1310.15" stroke="#EBEBEB" stroke-width="2.4" />
<line x1="1056.2" y1="1196.9" x2="1517.2" y2="1196.9" stroke="#EBEBEB" stroke-width="2.4" />
<line x1="1056.2" y1="1083.65" x2="1517.2" y2="1083.65" stroke="#EBEBEB" stroke-width="2.4" />
<g clip-path="url(#cr)"><line x1="1055.14" y1="1679.35" x2="1520.4" y2="1049.68" stroke="#000" stroke-width="5.8" stroke-dasharray="6 20.97" stroke-dashoffset="25.11"/></g>
<circle cx="1305.8" cy="1132.5" r="3.75" fill="#0000FF"/>
<circle cx="1422.6" cy="1181.4" r="3.75" fill="#FF0000"/>
<circle cx="1170.4" cy="1251.5" r="3.75" fill="#FF0000"/>
<circle cx="1370.8" cy="1359.2" r="3.75" fill="#006400"/>
<circle cx="1158.5" cy="1380.8" r="3.75" fill="#FF0000"/>
<circle cx="1149.1" cy="1413.3" r="3.75" fill="#FF0000"/>
<circle cx="1099.8" cy="1466.7" r="3.75" fill="#0000FF"/>
<circle cx="1084.8" cy="1502" r="3.75" fill="#FF0000"/>
<circle cx="1155.3" cy="1494.8" r="3.75" fill="#006400"/>
<circle cx="1228.9" cy="1504.2" r="3.75" fill="#0000FF"/>
<circle cx="1097.1" cy="1639.3" r="3.75" fill="#0000FF"/>
<circle cx="1076.6" cy="1649" r="3.75" fill="#0000FF"/>
<circle cx="1076" cy="1648" r="3.75" fill="#FF0000"/>
<circle cx="1077.4" cy="1646.1" r="3.75" fill="#FF0000"/>
<circle cx="1076.8" cy="1642.7" r="3.75" fill="#FF0000"/>
<rect x="1056.2" y="1057.3" width="461" height="620.6" fill="none" stroke="#1E1E1E" stroke-width="2.6" />
<line x1="1047.5" y1="1649.9" x2="1056.2" y2="1649.9" stroke="#333333" stroke-width="2.6" />
<line x1="1076.9" y1="1677.9" x2="1076.9" y2="1686.5" stroke="#333333" stroke-width="2.6" />
<text transform="translate(1024.78,1659.7) scale(0.9408,1)" font-size="27.88" fill="#4D4D4D" >0</text>
<text transform="translate(1069.58,1713.2) scale(0.9705,1)" font-size="27.02" fill="#4D4D4D" >0</text>
<line x1="1047.5" y1="1536.65" x2="1056.2" y2="1536.65" stroke="#333333" stroke-width="2.6" />
<line x1="1160.58" y1="1677.9" x2="1160.58" y2="1686.5" stroke="#333333" stroke-width="2.6" />
<text transform="translate(1027.86,1546.45) scale(0.7322,1)" font-size="28.35" fill="#4D4D4D" >1</text>
<text transform="translate(1154.54,1713.2) scale(0.7553,1)" font-size="27.48" fill="#4D4D4D" >1</text>
<line x1="1047.5" y1="1423.4" x2="1056.2" y2="1423.4" stroke="#333333" stroke-width="2.6" />
<line x1="1244.26" y1="1677.9" x2="1244.26" y2="1686.5" stroke="#333333" stroke-width="2.6" />
<text transform="translate(1024.52,1433.2) scale(0.9752,1)" font-size="28.03" fill="#4D4D4D" >2</text>
<text transform="translate(1236.68,1713.2) scale(1.0060,1)" font-size="27.17" fill="#4D4D4D" >2</text>
<line x1="1047.5" y1="1310.15" x2="1056.2" y2="1310.15" stroke="#333333" stroke-width="2.6" />
<line x1="1327.94" y1="1677.9" x2="1327.94" y2="1686.5" stroke="#333333" stroke-width="2.6" />
<text transform="translate(1024.88,1319.95) scale(0.9408,1)" font-size="27.88" fill="#4D4D4D" >3</text>
<text transform="translate(1320.72,1713.2) scale(0.9705,1)" font-size="27.02" fill="#4D4D4D" >3</text>
<line x1="1047.5" y1="1196.9" x2="1056.2" y2="1196.9" stroke="#333333" stroke-width="2.6" />
<line x1="1411.62" y1="1677.9" x2="1411.62" y2="1686.5" stroke="#333333" stroke-width="2.6" />
<text transform="translate(1025.32,1206.7) scale(0.8753,1)" font-size="28.35" fill="#4D4D4D" >4</text>
<text transform="translate(1404.84,1713.2) scale(0.9029,1)" font-size="27.48" fill="#4D4D4D" >4</text>
<line x1="1047.5" y1="1083.65" x2="1056.2" y2="1083.65" stroke="#333333" stroke-width="2.6" />
<line x1="1495.3" y1="1677.9" x2="1495.3" y2="1686.5" stroke="#333333" stroke-width="2.6" />
<text transform="translate(1024.77,1093.45) scale(0.9327,1)" font-size="28.35" fill="#4D4D4D" >5</text>
<text transform="translate(1487.97,1713.2) scale(0.9621,1)" font-size="27.48" fill="#4D4D4D" >5</text>
<text transform="translate(992.67,1753.2) scale(1.0789,1)" font-size="31.93" fill="#000" >Percent of enhancer peaks with TFBS</text>
<text transform="translate(1009.4,1656.44) rotate(-90) scale(0.9976,1)" font-size="34.68" fill="#000" >Percent of promoter peaks with TFBS</text>
<text transform="translate(1053.66,1027.2) scale(1.0483,1)" font-size="38.81" fill="#000" >Motifs found in ATAC peaks</text>
<g clip-path="url(#cr)">
<text transform="translate(1276.01,1120.8) scale(1.0626,1)" font-size="18.2" fill="#0000FF" >NANOG</text>
<text transform="translate(1402.87,1169.7) scale(0.9823,1)" font-size="18.51" fill="#FF0000" >IKZF1</text>
<text transform="translate(1143.87,1240.2) scale(1.0088,1)" font-size="18.51" fill="#FF0000" >NHLH1</text>
<text transform="translate(1345.19,1347.8) scale(1.0117,1)" font-size="18.2" fill="#006400" >FOXC1</text>
<text transform="translate(1139.94,1369.1) scale(1.0451,1)" font-size="18.2" fill="#FF0000" >RFX3</text>
<text transform="translate(1130.57,1401.4) scale(1.0201,1)" font-size="18.31" fill="#FF0000" >RFX2</text>
<text transform="translate(1075.35,1454.4) scale(1.0273,1)" font-size="18.2" fill="#0000FF" >CTCFL</text>
<text transform="translate(1055.09,1491.3) scale(1.0129,1)" font-size="18.2" fill="#FF0000" >PLAGL1</text>
<text transform="translate(1127.09,1483.8) scale(0.9937,1)" font-size="18.51" fill="#006400" >PRDM1</text>
<text transform="translate(1202.98,1492) scale(1.0160,1)" font-size="18.2" fill="#0000FF" >FOXD3</text>
<text transform="translate(1103.99,1636.7) scale(1.0797,1)" font-size="18.2" fill="#0000FF" >POU5F1</text>
<text transform="translate(1080.21,1667.7) scale(1.0262,1)" font-size="18.51" fill="#FF0000" >ZEB1</text>
</g>
<text transform="translate(8.88,1798.5) scale(0.9733,1)" font-size="43.68" font-weight="bold" fill="#000" >D)</text>
<path d="M233.5,2302.2H240.02 M240.02,2302.2H246.55 M246.54,2302.2H253.07 M253.07,2302.2V2267.76H259.59V2302.2Z M259.59,2302.2V2166.74H266.11V2302.2Z M266.11,2302.2V2070.3H272.63V2302.2Z M272.63,2302.2V1966.98H279.16V2302.2Z M279.16,2302.2V1934.84H285.68V2302.2Z M285.68,2302.2V1987.65H292.2V2302.2Z M292.2,2302.2V2028.98H298.72V2302.2Z M298.73,2302.2V2015.2H305.25V2302.2Z M305.25,2302.2V2010.61H311.77V2302.2Z M311.77,2302.2V2056.53H318.29V2302.2Z M318.29,2302.2V2134.59H324.81V2302.2Z M324.81,2302.2V2090.97H331.34V2302.2Z M331.34,2302.2V2130H337.86V2302.2Z M337.86,2302.2V2146.07H344.38V2302.2Z M344.38,2302.2V2164.44H350.9V2302.2Z M350.9,2302.2V2169.03H357.43V2302.2Z M357.43,2302.2V2208.06H363.95V2302.2Z M363.95,2302.2V2185.1H370.47V2302.2Z M370.47,2302.2V2221.84H376.99V2302.2Z M377,2302.2V2226.43H383.52V2302.2Z M383.52,2302.2V2221.84H390.04V2302.2Z M390.04,2302.2V2253.98H396.56V2302.2Z M396.56,2302.2V2237.91H403.08V2302.2Z M403.09,2302.2V2247.1H409.61V2302.2Z M409.61,2302.2V2267.76H416.13V2302.2Z M416.13,2302.2V2253.98H422.65V2302.2Z M422.65,2302.2V2242.5H429.18V2302.2Z M429.18,2302.2V2260.87H435.7V2302.2Z M435.7,2302.2V2251.69H442.22V2302.2Z M442.22,2302.2V2276.94H448.74V2302.2Z M448.74,2302.2V2265.46H455.26V2302.2Z M455.26,2302.2V2242.5H461.79V2302.2Z M461.79,2302.2V2251.69H468.31V2302.2Z M468.31,2302.2V2265.46H474.83V2302.2Z M474.83,2302.2V2251.69H481.35V2302.2Z M481.36,2302.2V2251.69H487.88V2302.2Z M487.88,2302.2V2272.35H494.4V2302.2Z M494.4,2302.2V2272.35H500.92V2302.2Z M500.92,2302.2V2270.06H507.44V2302.2Z M507.44,2302.2V2233.32H513.97V2302.2Z M513.97,2302.2V2247.1H520.49V2302.2Z M520.49,2302.2V2253.98H527.01V2302.2Z M527.01,2302.2V2253.98H533.54V2302.2Z M533.54,2302.2V2249.39H540.06V2302.2Z M540.06,2302.2V2226.43H546.58V2302.2Z M546.58,2302.2V2228.73H553.1V2302.2Z M553.1,2302.2V2226.43H559.62V2302.2Z M559.62,2302.2V2208.06H566.15V2302.2Z M566.15,2302.2V2242.5H572.67V2302.2Z M572.67,2302.2V2212.66H579.19V2302.2Z M579.19,2302.2V2221.84H585.72V2302.2Z M585.71,2302.2V2212.66H592.24V2302.2Z M592.24,2302.2V2240.21H598.76V2302.2Z M598.76,2302.2V2219.54H605.28V2302.2Z M605.28,2302.2V2224.14H611.81V2302.2Z M611.81,2302.2V2189.7H618.33V2302.2Z M618.33,2302.2V2212.66H624.85V2302.2Z M624.85,2302.2V2194.29H631.37V2302.2Z M631.37,2302.2V2208.06H637.89V2302.2Z M637.89,2302.2V2187.4H644.42V2302.2Z M644.42,2302.2V2189.7H650.94V2302.2Z M650.94,2302.2V2141.48H657.46V2302.2Z M657.46,2302.2V2139.18H663.99V2302.2Z M663.99,2302.2V2100.15H670.51V2302.2Z M670.51,2302.2V2038.16H677.03V2302.2Z M677.03,2302.2V1989.94H683.55V2302.2Z M683.55,2302.2V2070.3H690.08V2302.2Z M690.08,2302.2V2051.94H696.6V2302.2Z M696.6,2302.2V2081.78H703.12V2302.2Z M703.12,2302.2V2107.04H709.64V2302.2Z M709.64,2302.2V2104.74H716.16V2302.2Z M716.16,2302.2V2111.63H722.69V2302.2Z M722.69,2302.2V2180.51H729.21V2302.2Z M729.21,2302.2V2233.32H735.73V2302.2Z M735.73,2302.2V2251.69H742.26V2302.2Z M742.25,2302.2V2280.39H748.78V2302.2Z M748.78,2302.2V2299.9H755.3V2302.2Z" stroke="#000" stroke-width="3.3" fill="#fff" stroke-linejoin="round" stroke-linecap="round"/>
<line x1="212.4" y1="1957.8" x2="212.4" y2="2302.2" stroke="#000" stroke-width="3" stroke-linecap="round"/>
<line x1="187" y1="2302.2" x2="212.4" y2="2302.2" stroke="#000" stroke-width="3" stroke-linecap="round"/>
<line x1="187" y1="2187.4" x2="212.4" y2="2187.4" stroke="#000" stroke-width="3" stroke-linecap="round"/>
<line x1="187" y1="2072.6" x2="212.4" y2="2072.6" stroke="#000" stroke-width="3" stroke-linecap="round"/>
<line x1="187" y1="1957.8" x2="212.4" y2="1957.8" stroke="#000" stroke-width="3" stroke-linecap="round"/>
<line x1="233.5" y1="2317" x2="755.4" y2="2317" stroke="#000" stroke-width="3" stroke-linecap="round"/>
<line x1="233.5" y1="2317" x2="233.5" y2="2340.7" stroke="#000" stroke-width="3" stroke-linecap="round"/>
<line x1="363.98" y1="2317" x2="363.98" y2="2340.7" stroke="#000" stroke-width="3" stroke-linecap="round"/>
<line x1="494.45" y1="2317" x2="494.45" y2="2340.7" stroke="#000" stroke-width="3" stroke-linecap="round"/>
<line x1="624.92" y1="2317" x2="624.92" y2="2340.7" stroke="#000" stroke-width="3" stroke-linecap="round"/>
<line x1="755.4" y1="2317" x2="755.4" y2="2340.7" stroke="#000" stroke-width="3" stroke-linecap="round"/>
<line x1="308.3" y1="2316.3" x2="308.3" y2="1920" stroke="#FF0000" stroke-width="7.5" stroke-dasharray="21.5 37.5" stroke-linecap="round"/>
<line x1="680.2" y1="2316.3" x2="680.2" y2="1920" stroke="#FF0000" stroke-width="7.5" stroke-dasharray="21.5 37.5" stroke-linecap="round"/>
<path d="M1030.8,2297.3V2270.76H1037.33V2297.3Z M1037.33,2297.3V2118.74H1043.86V2297.3Z M1043.86,2297.3V2012.57H1050.39V2297.3Z M1050.39,2297.3V2017.39H1056.92V2297.3Z M1056.92,2297.3V1983.61H1063.45V2297.3Z M1063.45,2297.3V1959.48H1069.98V2297.3Z M1069.98,2297.3V1930.52H1076.51V2297.3Z M1076.51,2297.3V2041.52H1083.04V2297.3Z M1083.04,2297.3V2104.26H1089.57V2297.3Z M1089.57,2297.3V2063.24H1096.1V2297.3Z M1096.1,2297.3V2113.91H1102.63V2297.3Z M1102.63,2297.3V2128.39H1109.16V2297.3Z M1109.16,2297.3V2141.66H1115.69V2297.3Z M1115.69,2297.3V2159.76H1122.22V2297.3Z M1122.22,2297.3V2169.41H1128.75V2297.3Z M1128.75,2297.3V2181.48H1135.28V2297.3Z M1135.28,2297.3V2222.5H1141.81V2297.3Z M1141.81,2297.3V2210.43H1148.34V2297.3Z M1148.34,2297.3V2208.02H1154.87V2297.3Z M1154.87,2297.3V2210.43H1161.4V2297.3Z M1161.4,2297.3V2215.26H1167.93V2297.3Z M1167.93,2297.3V2222.5H1174.46V2297.3Z M1174.46,2297.3V2222.5H1180.99V2297.3Z M1180.99,2297.3V2212.85H1187.52V2297.3Z M1187.52,2297.3V2256.28H1194.05V2297.3Z M1194.05,2297.3V2227.32H1200.58V2297.3Z M1200.58,2297.3V2222.5H1207.11V2297.3Z M1207.11,2297.3V2220.08H1213.64V2297.3Z M1213.64,2297.3V2256.28H1220.17V2297.3Z M1220.17,2297.3V2256.28H1226.7V2297.3Z M1226.7,2297.3V2241.8H1233.23V2297.3Z M1233.23,2297.3V2258.69H1239.76V2297.3Z M1239.76,2297.3V2249.04H1246.29V2297.3Z M1246.29,2297.3V2239.39H1252.82V2297.3Z M1252.82,2297.3V2255.07H1259.35V2297.3Z M1259.35,2297.3V2255.07H1265.88V2297.3Z M1265.88,2297.3V2264.48H1272.41V2297.3Z M1272.41,2297.3V2255.07H1278.94V2297.3Z M1278.94,2297.3V2282.1H1285.47V2297.3Z M1285.47,2297.3V2266.41H1292V2297.3Z M1292,2297.3V2276.31H1298.53V2297.3Z M1298.53,2297.3V2264.48H1305.06V2297.3Z M1305.06,2297.3V2266.65H1311.59V2297.3Z M1311.59,2297.3V2270.76H1318.12V2297.3Z M1318.12,2297.3V2264.48H1324.65V2297.3Z M1324.65,2297.3V2283.3H1331.18V2297.3Z M1331.18,2297.3V2261.83H1337.71V2297.3Z M1337.71,2297.3V2279.44H1344.24V2297.3Z M1344.24,2297.3V2266.65H1350.77V2297.3Z M1350.77,2297.3V2259.66H1357.3V2297.3Z M1357.3,2297.3V2250.01H1363.83V2297.3Z M1363.83,2297.3V2257.49H1370.36V2297.3Z M1370.36,2297.3V2264.97H1376.89V2297.3Z M1376.89,2297.3V2247.59H1383.42V2297.3Z M1383.42,2297.3V2250.01H1389.95V2297.3Z M1389.95,2297.3V2245.42H1396.48V2297.3Z M1396.48,2297.3V2225.63H1403.01V2297.3Z M1403.01,2297.3V2228.05H1409.54V2297.3Z M1409.54,2297.3V2213.81H1416.07V2297.3Z M1416.07,2297.3V2213.81H1422.6V2297.3Z M1422.6,2297.3V2245.66H1429.13V2297.3Z M1429.13,2297.3V2221.29H1435.66V2297.3Z M1435.66,2297.3V2194.99H1442.19V2297.3Z M1442.19,2297.3V2204.4H1448.72V2297.3Z M1448.72,2297.3V2158.55H1455.25V2297.3Z M1455.25,2297.3V2146H1461.78V2297.3Z M1461.78,2297.3V2146H1468.31V2297.3Z M1468.31,2297.3V2092.2H1474.84V2297.3Z M1474.84,2297.3V2099.43H1481.37V2297.3Z M1481.37,2297.3V2116.33H1487.9V2297.3Z M1487.9,2297.3V2075.3H1494.43V2297.3Z M1494.43,2297.3V1954.65H1500.96V2297.3Z M1500.96,2297.3V2022.22H1507.49V2297.3Z M1507.49,2297.3V2017.39H1514.02V2297.3Z M1514.02,2297.3V1981.2H1520.55V2297.3Z M1520.55,2297.3V2002.91H1527.08V2297.3Z M1527.08,2297.3V1961.89H1533.61V2297.3Z M1533.61,2297.3V1969.13H1540.14V2297.3Z M1540.14,2297.3V2056H1546.67V2297.3Z M1546.67,2297.3V2263.52H1553.2V2297.3Z" stroke="#000" stroke-width="3.3" fill="#fff" stroke-linejoin="round" stroke-linecap="round"/>
<line x1="1010.3" y1="1935.35" x2="1010.3" y2="2297.3" stroke="#000" stroke-width="3" stroke-linecap="round"/>
<line x1="984.7" y1="2297.3" x2="1010.3" y2="2297.3" stroke="#000" stroke-width="3" stroke-linecap="round"/>
<line x1="984.7" y1="2176.65" x2="1010.3" y2="2176.65" stroke="#000" stroke-width="3" stroke-linecap="round"/>
<line x1="984.7" y1="2056" x2="1010.3" y2="2056" stroke="#000" stroke-width="3" stroke-linecap="round"/>
<line x1="984.7" y1="1935.35" x2="1010.3" y2="1935.35" stroke="#000" stroke-width="3" stroke-linecap="round"/>
<line x1="1030.8" y1="2312" x2="1553" y2="2312" stroke="#000" stroke-width="3" stroke-linecap="round"/>
<line x1="1030.8" y1="2312" x2="1030.8" y2="2335.6" stroke="#000" stroke-width="3" stroke-linecap="round"/>
<line x1="1161.35" y1="2312" x2="1161.35" y2="2335.6" stroke="#000" stroke-width="3" stroke-linecap="round"/>
<line x1="1291.9" y1="2312" x2="1291.9" y2="2335.6" stroke="#000" stroke-width="3" stroke-linecap="round"/>
<line x1="1422.45" y1="2312" x2="1422.45" y2="2335.6" stroke="#000" stroke-width="3" stroke-linecap="round"/>
<line x1="1553" y1="2312" x2="1553" y2="2335.6" stroke="#000" stroke-width="3" stroke-linecap="round"/>
<line x1="1116.3" y1="2311.5" x2="1116.3" y2="1915" stroke="#FF0000" stroke-width="7.5" stroke-dasharray="21.5 37.5" stroke-linecap="round"/>
<line x1="1468.1" y1="2311.5" x2="1468.1" y2="1915" stroke="#FF0000" stroke-width="7.5" stroke-dasharray="21.5 37.5" stroke-linecap="round"/>
<text transform="translate(404.79,1841.4) scale(1.0590,1)" font-size="48.5" font-weight="bold" fill="#000" >ESRRA</text>
<text transform="translate(1225.26,1836.2) scale(1.0818,1)" font-size="46.43" font-weight="bold" fill="#000" >EBF1</text>
<text transform="translate(154.1,2313.36) rotate(-90) scale(0.9859,1)" font-size="40.53" fill="#000" >0</text>
<text transform="translate(154.1,2209.13) rotate(-90) scale(0.9663,1)" font-size="40.53" fill="#000" >50</text>
<text transform="translate(154.1,2105.24) rotate(-90) scale(0.9614,1)" font-size="40.53" fill="#000" >100</text>
<text transform="translate(154.1,1989.91) rotate(-90) scale(0.9519,1)" font-size="40.53" fill="#000" >150</text>
<text transform="translate(951.5,2308.46) rotate(-90) scale(0.9859,1)" font-size="40.53" fill="#000" >0</text>
<text transform="translate(951.5,2198.43) rotate(-90) scale(0.9663,1)" font-size="40.53" fill="#000" >50</text>
<text transform="translate(951.5,2089.24) rotate(-90) scale(0.9614,1)" font-size="40.53" fill="#000" >100</text>
<text transform="translate(951.5,1968.31) rotate(-90) scale(0.9519,1)" font-size="40.53" fill="#000" >150</text>
<text transform="translate(192.58,2401.4) scale(1.0959,1)" font-size="37.4" fill="#000" >−1.0</text>
<text transform="translate(989.58,2394.1) scale(1.0959,1)" font-size="37.4" fill="#000" >−1.0</text>
<text transform="translate(322.64,2401.4) scale(1.1180,1)" font-size="37.4" fill="#000" >−0.5</text>
<text transform="translate(1119.64,2394.1) scale(1.1180,1)" font-size="37.4" fill="#000" >−0.5</text>
<text transform="translate(464.68,2401.4) scale(1.1085,1)" font-size="37.4" fill="#000" >0.0</text>
<text transform="translate(1261.68,2394.1) scale(1.1085,1)" font-size="37.4" fill="#000" >0.0</text>
<text transform="translate(595.47,2401.4) scale(1.1138,1)" font-size="37.4" fill="#000" >0.5</text>
<text transform="translate(1392.47,2394.1) scale(1.1138,1)" font-size="37.4" fill="#000" >0.5</text>
<text transform="translate(725.18,2401.4) scale(1.1243,1)" font-size="37.4" fill="#000" >1.0</text>
<text transform="translate(1522.18,2394.1) scale(1.1243,1)" font-size="37.4" fill="#000" >1.0</text>
<text transform="translate(392.78,2473.6) scale(1.1521,1)" font-size="36.2" fill="#000" >Correlation</text>
<text transform="translate(1189.78,2466.8) scale(1.1521,1)" font-size="36.2" fill="#000" >Correlation</text>
<text transform="translate(55.1,2269.04) rotate(-90) scale(0.9749,1)" font-size="40.46" fill="#000" >Number of DEGs</text>
<text transform="translate(852.4,2264.24) rotate(-90) scale(0.9749,1)" font-size="40.46" fill="#000" >Number of DEGs</text>
<rect x="412.6" y="1909.4" width="231.2" height="221.2" fill="#fff" stroke="none" stroke-width="0" />
<line x1="412.6" y1="1929.5" x2="643.8" y2="1929.5" stroke="#EBEBEB" stroke-width="1.1" />
<line x1="412.6" y1="1975.8" x2="643.8" y2="1975.8" stroke="#EBEBEB" stroke-width="1.1" />
<line x1="412.6" y1="2021.9" x2="643.8" y2="2021.9" stroke="#EBEBEB" stroke-width="1.1" />
<line x1="412.6" y1="2068.4" x2="643.8" y2="2068.4" stroke="#EBEBEB" stroke-width="1.1" />
<line x1="412.6" y1="2115.2" x2="643.8" y2="2115.2" stroke="#EBEBEB" stroke-width="1.1" />
<line x1="412.6" y1="1952.7" x2="643.8" y2="1952.7" stroke="#EBEBEB" stroke-width="1.9" />
<line x1="412.6" y1="1998.9" x2="643.8" y2="1998.9" stroke="#EBEBEB" stroke-width="1.9" />
<line x1="412.6" y1="2045" x2="643.8" y2="2045" stroke="#EBEBEB" stroke-width="1.9" />
<line x1="412.6" y1="2091.9" x2="643.8" y2="2091.9" stroke="#EBEBEB" stroke-width="1.9" />
<line x1="455.7" y1="1909.4" x2="455.7" y2="2130.6" stroke="#EBEBEB" stroke-width="1.9" />
<line x1="527.5" y1="1909.4" x2="527.5" y2="2130.6" stroke="#EBEBEB" stroke-width="1.9" />
<line x1="599.7" y1="1909.4" x2="599.7" y2="2130.6" stroke="#EBEBEB" stroke-width="1.9" />
<polyline points="453.8,1919.7 527.5,2005.3 599.7,2120.6" fill="none" stroke="#0000F0" stroke-width="3.2" stroke-linecap="round" stroke-linejoin="round"/>
<circle cx="453.8" cy="1919.7" r="2.5" fill="#0000F0"/>
<circle cx="527.5" cy="2005.3" r="2.5" fill="#0000F0"/>
<circle cx="599.7" cy="2120.6" r="2.5" fill="#0000F0"/>
<rect x="412.6" y="1909.4" width="231.2" height="221.2" fill="none" stroke="#222" stroke-width="1.8" />
<line x1="407.2" y1="1952.7" x2="412.6" y2="1952.7" stroke="#333" stroke-width="1.6" />
<line x1="407.2" y1="1998.9" x2="412.6" y2="1998.9" stroke="#333" stroke-width="1.6" />
<line x1="407.2" y1="2045" x2="412.6" y2="2045" stroke="#333" stroke-width="1.6" />
<line x1="407.2" y1="2091.9" x2="412.6" y2="2091.9" stroke="#333" stroke-width="1.6" />
<line x1="455.7" y1="2130.6" x2="455.7" y2="2135.6" stroke="#333" stroke-width="1.4" />
<line x1="527.5" y1="2130.6" x2="527.5" y2="2135.6" stroke="#333" stroke-width="1.4" />
<line x1="599.7" y1="2130.6" x2="599.7" y2="2135.6" stroke="#333" stroke-width="1.4" />
<text transform="translate(367.71,1961.5) scale(0.9973,1)" font-size="25.03" fill="#000" >4.0</text>
<text transform="translate(367.31,2007.7) scale(1.0121,1)" font-size="25.03" fill="#000" >3.5</text>
<text transform="translate(367.31,2053.8) scale(1.0091,1)" font-size="25.03" fill="#000" >3.0</text>
<text transform="translate(367,2100.7) scale(1.0155,1)" font-size="25.17" fill="#000" >2.5</text>
<text transform="translate(440.28,2166.7) scale(1.1754,1)" font-size="22.16" fill="#000" >d0</text>
<text transform="translate(508.39,2166.7) scale(1.1616,1)" font-size="22.16" fill="#000" >d14</text>
<text transform="translate(576.59,2166.7) scale(1.1674,1)" font-size="22.16" fill="#000" >d28</text>
<text transform="translate(353.7,2081.67) rotate(-90) scale(0.8985,1)" font-size="26.7" fill="#000" >Log2(FPKM)</text>
<rect x="1189.7" y="1924.9" width="244.6" height="205.9" fill="#fff" stroke="none" stroke-width="0" />
<line x1="1189.7" y1="1971.6" x2="1434.3" y2="1971.6" stroke="#EBEBEB" stroke-width="1.1" />
<line x1="1189.7" y1="2035.1" x2="1434.3" y2="2035.1" stroke="#EBEBEB" stroke-width="1.1" />
<line x1="1189.7" y1="2099.2" x2="1434.3" y2="2099.2" stroke="#EBEBEB" stroke-width="1.1" />
<line x1="1189.7" y1="1939.6" x2="1434.3" y2="1939.6" stroke="#EBEBEB" stroke-width="1.9" />
<line x1="1189.7" y1="2004.1" x2="1434.3" y2="2004.1" stroke="#EBEBEB" stroke-width="1.9" />
<line x1="1189.7" y1="2067.2" x2="1434.3" y2="2067.2" stroke="#EBEBEB" stroke-width="1.9" />
<line x1="1235.2" y1="1924.9" x2="1235.2" y2="2130.8" stroke="#EBEBEB" stroke-width="1.9" />
<line x1="1311.7" y1="1924.9" x2="1311.7" y2="2130.8" stroke="#EBEBEB" stroke-width="1.9" />
<line x1="1387.8" y1="1924.9" x2="1387.8" y2="2130.8" stroke="#EBEBEB" stroke-width="1.9" />
<polyline points="1233.7,2122 1311.9,2056.4 1387.2,1935.2" fill="none" stroke="#0000F0" stroke-width="4" stroke-linecap="round" stroke-linejoin="round"/>
<circle cx="1233.7" cy="2122" r="3.12" fill="#0000F0"/>
<circle cx="1311.9" cy="2056.4" r="3.12" fill="#0000F0"/>
<circle cx="1387.2" cy="1935.2" r="3.12" fill="#0000F0"/>
<rect x="1189.7" y="1924.9" width="244.6" height="205.9" fill="none" stroke="#222" stroke-width="1.8" />
<line x1="1184.3" y1="1939.6" x2="1189.7" y2="1939.6" stroke="#333" stroke-width="1.6" />
<line x1="1184.3" y1="2004.1" x2="1189.7" y2="2004.1" stroke="#333" stroke-width="1.6" />
<line x1="1184.3" y1="2067.2" x2="1189.7" y2="2067.2" stroke="#333" stroke-width="1.6" />
<line x1="1235.2" y1="2130.8" x2="1235.2" y2="2135.8" stroke="#333" stroke-width="1.4" />
<line x1="1311.7" y1="2130.8" x2="1311.7" y2="2135.8" stroke="#333" stroke-width="1.4" />
<line x1="1387.8" y1="2130.8" x2="1387.8" y2="2135.8" stroke="#333" stroke-width="1.4" />
<line x1="1184.5" y1="2130.8" x2="1189.7" y2="2130.8" stroke="#222" stroke-width="1.8" />
<text transform="translate(1161.9,1942.1) scale(1.0291,1)" font-size="24.88" fill="#000" >4</text>
<text transform="translate(1161.45,1988.6) scale(1.0809,1)" font-size="25.03" fill="#000" >3</text>
<text transform="translate(1161.08,2032.4) scale(1.0956,1)" font-size="25.74" fill="#000" >2</text>
<text transform="translate(1162.52,2078.5) scale(0.8770,1)" font-size="28.93" fill="#000" >1</text>
<text transform="translate(1224.53,2164.3) scale(1.0959,1)" font-size="22.71" fill="#000" >d0</text>
<text transform="translate(1292.31,2164.3) scale(1.1197,1)" font-size="22.71" fill="#000" >d14</text>
<text transform="translate(1360.5,2164.3) scale(1.1307,1)" font-size="22.71" fill="#000" >d28</text>
<text transform="translate(1153.2,2091.85) rotate(-90) scale(0.8711,1)" font-size="27.25" fill="#000" >Log2(FPKM)</text>
</svg></body></html>
